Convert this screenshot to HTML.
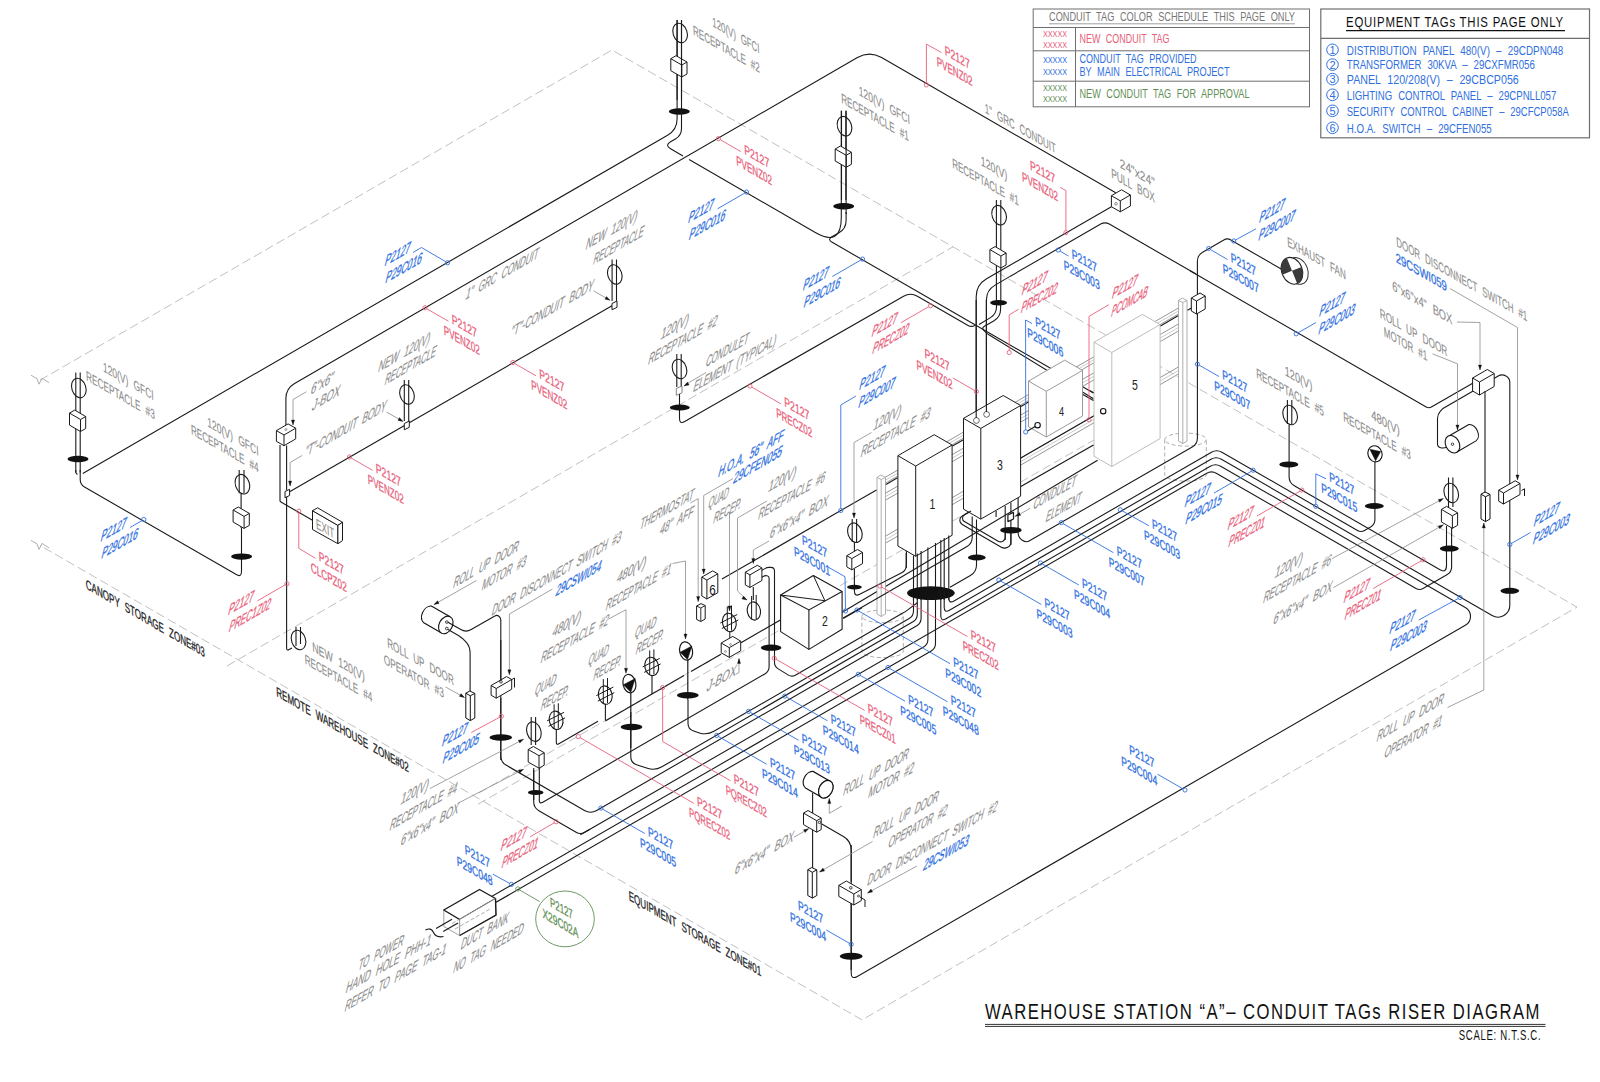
<!DOCTYPE html>
<html><head><meta charset="utf-8"><title>Warehouse Station A - Conduit Tags Riser Diagram</title>
<style>html,body{margin:0;padding:0;background:#fff}svg{display:block}text{font-family:"Liberation Sans",sans-serif}</style>
</head><body>
<svg width="1600" height="1082" viewBox="0 0 1600 1082">
<rect width="1600" height="1082" fill="#fff"/>
<rect x="1033.2" y="9" width="276.3" height="97.8" fill="none" stroke="#6e6e6e" stroke-width="1"/>
<path d="M1033.2 27.5 L1309.5 27.5" stroke="#6e6e6e" stroke-width="1" fill="none"/>
<path d="M1033.2 50.8 L1309.5 50.8" stroke="#6e6e6e" stroke-width="1" fill="none"/>
<path d="M1033.2 81.2 L1309.5 81.2" stroke="#6e6e6e" stroke-width="1" fill="none"/>
<path d="M1075.5 27.5 L1075.5 106.8" stroke="#6e6e6e" stroke-width="1" fill="none"/>
<text x="1049" y="21.3" font-size="12" fill="#777" text-anchor="start" textLength="246" lengthAdjust="spacingAndGlyphs" word-spacing="4">CONDUIT TAG COLOR SCHEDULE THIS PAGE ONLY</text>
<path d="M1049 23.8 L1295 23.8" stroke="#888" stroke-width="0.8" fill="none"/>
<text x="1043" y="37" font-size="9.5" fill="#e8607a" text-anchor="start" textLength="24" lengthAdjust="spacingAndGlyphs">XXXXX</text>
<text x="1043" y="47.5" font-size="9.5" fill="#e8607a" text-anchor="start" textLength="24" lengthAdjust="spacingAndGlyphs">XXXXX</text>
<text x="1043" y="62.5" font-size="9.5" fill="#2f6fe0" text-anchor="start" textLength="24" lengthAdjust="spacingAndGlyphs">XXXXX</text>
<text x="1043" y="74.5" font-size="9.5" fill="#2f6fe0" text-anchor="start" textLength="24" lengthAdjust="spacingAndGlyphs">XXXXX</text>
<text x="1043" y="91.2" font-size="9.5" fill="#5f8f55" text-anchor="start" textLength="24" lengthAdjust="spacingAndGlyphs">XXXXX</text>
<text x="1043" y="102" font-size="9.5" fill="#5f8f55" text-anchor="start" textLength="24" lengthAdjust="spacingAndGlyphs">XXXXX</text>
<text x="1079.5" y="42.5" font-size="12" fill="#e8607a" text-anchor="start" textLength="90" lengthAdjust="spacingAndGlyphs" word-spacing="4">NEW CONDUIT TAG</text>
<text x="1079.5" y="62.5" font-size="12" fill="#2f6fe0" text-anchor="start" textLength="117" lengthAdjust="spacingAndGlyphs" word-spacing="4">CONDUIT TAG PROVIDED</text>
<text x="1079.5" y="76.3" font-size="12" fill="#2f6fe0" text-anchor="start" textLength="150" lengthAdjust="spacingAndGlyphs" word-spacing="4">BY MAIN ELECTRICAL PROJECT</text>
<text x="1079.5" y="98" font-size="12" fill="#5f8f55" text-anchor="start" textLength="170" lengthAdjust="spacingAndGlyphs" word-spacing="4">NEW CONDUIT TAG FOR APPROVAL</text>
<rect x="1320.8" y="9" width="268.7" height="128.8" fill="none" stroke="#6e6e6e" stroke-width="1.2"/>
<path d="M1320.8 38.3 L1589.5 38.3" stroke="#6e6e6e" stroke-width="1.2" fill="none"/>
<text x="1346" y="26.8" font-size="14.5" fill="#111" text-anchor="start" textLength="218" lengthAdjust="spacingAndGlyphs" letter-spacing="1">EQUIPMENT TAGs THIS PAGE ONLY</text>
<path d="M1346 30.6 L1565 30.6" stroke="#111" stroke-width="1.2" fill="none"/>
<circle cx="1332.5" cy="49.8" r="5.8" fill="none" stroke="#2f6fe0" stroke-width="1"/>
<text x="1332.5" y="53.7" font-size="11" fill="#2f6fe0" text-anchor="middle">1</text>
<text x="1346.8" y="54.5" font-size="13" fill="#2f6fe0" text-anchor="start" textLength="216.5" lengthAdjust="spacingAndGlyphs" word-spacing="4.5">DISTRIBUTION PANEL 480(V) – 29CDPN048</text>
<circle cx="1332.5" cy="64.6" r="5.8" fill="none" stroke="#2f6fe0" stroke-width="1"/>
<text x="1332.5" y="68.5" font-size="11" fill="#2f6fe0" text-anchor="middle">2</text>
<text x="1346.8" y="69.3" font-size="13" fill="#2f6fe0" text-anchor="start" textLength="188" lengthAdjust="spacingAndGlyphs" word-spacing="4.5">TRANSFORMER 30KVA – 29CXFMR056</text>
<circle cx="1332.5" cy="79.1" r="5.8" fill="none" stroke="#2f6fe0" stroke-width="1"/>
<text x="1332.5" y="83" font-size="11" fill="#2f6fe0" text-anchor="middle">3</text>
<text x="1346.8" y="83.8" font-size="13" fill="#2f6fe0" text-anchor="start" textLength="172" lengthAdjust="spacingAndGlyphs" word-spacing="4.5">PANEL 120/208(V) – 29CBCP056</text>
<circle cx="1332.5" cy="94.8" r="5.8" fill="none" stroke="#2f6fe0" stroke-width="1"/>
<text x="1332.5" y="98.7" font-size="11" fill="#2f6fe0" text-anchor="middle">4</text>
<text x="1346.8" y="99.5" font-size="13" fill="#2f6fe0" text-anchor="start" textLength="209.5" lengthAdjust="spacingAndGlyphs" word-spacing="4.5">LIGHTING CONTROL PANEL – 29CPNLL057</text>
<circle cx="1332.5" cy="110.8" r="5.8" fill="none" stroke="#2f6fe0" stroke-width="1"/>
<text x="1332.5" y="114.7" font-size="11" fill="#2f6fe0" text-anchor="middle">5</text>
<text x="1346.8" y="115.5" font-size="13" fill="#2f6fe0" text-anchor="start" textLength="222" lengthAdjust="spacingAndGlyphs" word-spacing="4.5">SECURITY CONTROL CABINET – 29CFCP058A</text>
<circle cx="1332.5" cy="127.8" r="5.8" fill="none" stroke="#2f6fe0" stroke-width="1"/>
<text x="1332.5" y="131.7" font-size="11" fill="#2f6fe0" text-anchor="middle">6</text>
<text x="1346.8" y="132.5" font-size="13" fill="#2f6fe0" text-anchor="start" textLength="145" lengthAdjust="spacingAndGlyphs" word-spacing="4.5">H.O.A. SWITCH – 29CFEN055</text>
<text x="985" y="1018.8" font-size="22.5" fill="#111" text-anchor="start" textLength="556" lengthAdjust="spacingAndGlyphs" letter-spacing="2">WAREHOUSE STATION “A”– CONDUIT TAGs RISER DIAGRAM</text>
<path d="M985 1024.4 L1545.5 1024.4" stroke="#333" stroke-width="1" fill="none"/>
<path d="M985 1026.4 L1545.5 1026.4" stroke="#333" stroke-width="1" fill="none"/>
<text x="1458.8" y="1040.3" font-size="14" fill="#111" text-anchor="start" textLength="82.5" lengthAdjust="spacingAndGlyphs" letter-spacing="1">SCALE: N.T.S.C.</text>
<path d="M40 380.2 L612 50 L1577 607.1 L862 1019.9 L40 545.4" stroke="#b0b0b0" stroke-width="0.8" fill="none" stroke-dasharray="9 4"/>
<path d="M31 375.2 L37 378.7 L39 384.2 L42 378.2 L49 382.7" stroke="#999" stroke-width="0.8" fill="none"/>
<path d="M31 540.4 L37 543.9 L39 549.4 L42 543.4 L49 547.9" stroke="#999" stroke-width="0.8" fill="none"/>
<path d="M227 666 L953 246.8" stroke="#b0b0b0" stroke-width="0.8" fill="none" stroke-dasharray="9 4"/>
<path d="M478.9 793 L1100 436.5" stroke="#b0b0b0" stroke-width="0.8" fill="none" stroke-dasharray="9 4"/>
<path d="M477.9 804.3 L781 629.3" stroke="#b0b0b0" stroke-width="0.8" fill="none" stroke-dasharray="9 4"/>
<path d="M75.8 372.5 L75.8 472.5" stroke="#1a1a1a" stroke-width="1.1" fill="none"/>
<path d="M80.2 372.5 L80.2 472.5" stroke="#1a1a1a" stroke-width="1.1" fill="none"/>
<ellipse cx="78.8" cy="388" rx="7" ry="10" fill="none" stroke="#1a1a1a" stroke-width="1.1" transform="rotate(-18 78.8 388)"/>
<polygon points="69.5,425.1 80.5,431.5 85.7,428.5 85.7,416.5 74.7,410.1 69.5,413.1" fill="#fff" stroke="#1a1a1a" stroke-width="1" stroke-linejoin="round"/>
<path d="M69.5 413.1 L80.5 419.5 L85.7 416.5" stroke="#1a1a1a" stroke-width="1" fill="none"/>
<path d="M80.5 419.5 L80.5 431.5" stroke="#1a1a1a" stroke-width="1" fill="none"/>
<ellipse cx="78" cy="459" rx="10.5" ry="3.2" fill="#111"/>
<path d="M75.8 470 L75.8 471.9 Q75.8 473 76.7 473.8 L77.5 474.5" stroke="#1a1a1a" stroke-width="1.1" fill="none"/>
<path d="M80.2 470 L80.2 479.5 Q80.2 484.5 84.5 487 L236.3 574.6 Q241.5 577.6 241.5 571.6 L241.5 528" stroke="#1a1a1a" stroke-width="1.1" fill="none"/>
<path d="M82.8 473.4 L667.6 135.2 Q677.1 129.7 677.1 118.7 L677.1 20" stroke="#1a1a1a" stroke-width="1.1" fill="none"/>
<path d="M677.1 20 L677.1 100" stroke="#1a1a1a" stroke-width="1.1" fill="none"/>
<path d="M681.5 20 L681.5 100" stroke="#1a1a1a" stroke-width="1.1" fill="none"/>
<ellipse cx="680.1" cy="33" rx="7" ry="10" fill="none" stroke="#1a1a1a" stroke-width="1.1" transform="rotate(-18 680.1 33)"/>
<polygon points="670.8,70.7 681.8,77 687,74 687,62 676,55.7 670.8,58.7" fill="#fff" stroke="#1a1a1a" stroke-width="1" stroke-linejoin="round"/>
<path d="M670.8 58.7 L681.8 65 L687 62" stroke="#1a1a1a" stroke-width="1" fill="none"/>
<path d="M681.8 65 L681.8 77" stroke="#1a1a1a" stroke-width="1" fill="none"/>
<ellipse cx="679.3" cy="111.5" rx="10.5" ry="3.2" fill="#111"/>
<path d="M681.5 20 L681.5 118" stroke="#1a1a1a" stroke-width="1.1" fill="none"/>
<path d="M681.5 118 L681.5 128.5 Q681.5 135.5 675.4 139 L670.6 141.8 Q664.5 145.3 670.6 148.8 L683 156" stroke="#1a1a1a" stroke-width="1.1" fill="none"/>
<path d="M689.1 159.6 L815.3 232.5 Q841.3 247.5 841.3 217.5 L841.3 110.7" stroke="#1a1a1a" stroke-width="1.1" fill="none"/>
<path d="M841.5 110.7 L841.5 200" stroke="#1a1a1a" stroke-width="1.1" fill="none"/>
<path d="M845.9 110.7 L845.9 200" stroke="#1a1a1a" stroke-width="1.1" fill="none"/>
<ellipse cx="844.5" cy="126.2" rx="7" ry="10" fill="none" stroke="#1a1a1a" stroke-width="1.1" transform="rotate(-18 844.5 126.2)"/>
<polygon points="835.2,161 846.2,167.3 851.4,164.3 851.4,152.3 840.4,146 835.2,149" fill="#fff" stroke="#1a1a1a" stroke-width="1" stroke-linejoin="round"/>
<path d="M835.2 149 L846.2 155.3 L851.4 152.3" stroke="#1a1a1a" stroke-width="1" fill="none"/>
<path d="M846.2 155.3 L846.2 167.3" stroke="#1a1a1a" stroke-width="1" fill="none"/>
<ellipse cx="843.7" cy="206.3" rx="10.5" ry="3.2" fill="#111"/>
<path d="M846.1 110.7 L846.1 214" stroke="#1a1a1a" stroke-width="1.1" fill="none"/>
<path d="M846.1 212 L846.1 220.5 Q846.1 229 838.6 233 L832.3 236.5 Q827 239.3 832.2 242.3 L975 324.7" stroke="#1a1a1a" stroke-width="1.1" fill="none"/>
<path d="M239.2 470 L239.2 493.2" stroke="#1a1a1a" stroke-width="1.1" fill="none"/>
<path d="M244 470 L244 493.2" stroke="#1a1a1a" stroke-width="1.1" fill="none"/>
<path d="M241.1 493.2 L241.1 528" stroke="#1a1a1a" stroke-width="1.1" fill="none"/>
<ellipse cx="242.4" cy="484.2" rx="7" ry="10" fill="none" stroke="#1a1a1a" stroke-width="1.1" transform="rotate(-18 242.4 484.2)"/>
<polygon points="233.1,522 244.1,528.4 249.3,525.4 249.3,513.4 238.3,507 233.1,510" fill="#fff" stroke="#1a1a1a" stroke-width="1" stroke-linejoin="round"/>
<path d="M233.1 510 L244.1 516.4 L249.3 513.4" stroke="#1a1a1a" stroke-width="1" fill="none"/>
<path d="M244.1 516.4 L244.1 528.4" stroke="#1a1a1a" stroke-width="1" fill="none"/>
<ellipse cx="241.6" cy="556.6" rx="10.5" ry="3.2" fill="#111"/>
<path d="M285.9 429 L285.9 398.4 Q285.9 388.4 294.6 383.4 L857.4 57.6 Q869.5 50.6 881.6 57.6 L1115.7 192.8" stroke="#1a1a1a" stroke-width="1.1" fill="none"/>
<polygon points="276.4,441.3 284,445.7 295.7,438.9 295.7,428.2 288.1,423.9 276.4,430.6" fill="#fff" stroke="#1a1a1a" stroke-width="1" stroke-linejoin="round"/>
<path d="M276.4 430.6 L284 435 L295.7 428.2" stroke="#1a1a1a" stroke-width="1" fill="none"/>
<path d="M284 435 L284 445.7" stroke="#1a1a1a" stroke-width="1" fill="none"/>
<circle cx="285.9" cy="429.5" r="1" fill="none" stroke="#555" stroke-width="0.6"/>
<path d="M280 445 L280 500.5 Q280 501.5 280.9 502 L312.5 520.3" stroke="#1a1a1a" stroke-width="1.1" fill="none"/>
<path d="M286.6 445.5 L286.6 490" stroke="#1a1a1a" stroke-width="1.1" fill="none"/>
<path d="M286.6 497 L286.6 648 Q286.6 651 289.2 649.5 L292 648" stroke="#1a1a1a" stroke-width="1.1" fill="none"/>
<polygon points="285,491.5 289.6,489.3 289.6,495.5 285,497.7" fill="#fff" stroke="#1a1a1a" stroke-width="1" stroke-linejoin="round"/>
<path d="M289.6 491.8 L404.5 425.5" stroke="#1a1a1a" stroke-width="1.1" fill="none"/>
<path d="M404.3 380 L404.3 421" stroke="#1a1a1a" stroke-width="1.1" fill="none"/>
<path d="M408.7 380 L408.7 421" stroke="#1a1a1a" stroke-width="1.1" fill="none"/>
<ellipse cx="407" cy="394.5" rx="7" ry="10" fill="none" stroke="#1a1a1a" stroke-width="1.1" transform="rotate(-18 407 394.5)"/>
<polygon points="404.3,423.5 409.3,421 409.3,427.3 404.3,429.8" fill="#fff" stroke="#1a1a1a" stroke-width="1" stroke-linejoin="round"/>
<path d="M409.3 422.7 L612 305.7" stroke="#1a1a1a" stroke-width="1.1" fill="none"/>
<path d="M612.1 259.5 L612.1 301" stroke="#1a1a1a" stroke-width="1.1" fill="none"/>
<path d="M616.5 259.5 L616.5 301" stroke="#1a1a1a" stroke-width="1.1" fill="none"/>
<ellipse cx="614.8" cy="274.5" rx="7" ry="10" fill="none" stroke="#1a1a1a" stroke-width="1.1" transform="rotate(-18 614.8 274.5)"/>
<polygon points="612,303.5 617,301 617,307.3 612,309.8" fill="#fff" stroke="#1a1a1a" stroke-width="1" stroke-linejoin="round"/>
<ellipse cx="298.5" cy="640" rx="7" ry="10" fill="none" stroke="#1a1a1a" stroke-width="1.1" transform="rotate(-18 298.5 640)"/>
<path d="M296 627 L296 646" stroke="#1a1a1a" stroke-width="1.1" fill="none"/>
<path d="M300.5 627 L300.5 644" stroke="#1a1a1a" stroke-width="1.1" fill="none"/>
<polygon points="312.5,510.7 337.9,525.4 337.9,543.7 312.5,529.5" fill="#fff" stroke="#1a1a1a" stroke-width="1" stroke-linejoin="round"/>
<polygon points="312.5,510.7 317.6,507.8 342.5,522.3 337.9,525.4" fill="#fff" stroke="#1a1a1a" stroke-width="1" stroke-linejoin="round"/>
<polygon points="337.9,525.4 342.5,522.3 342.5,540.6 337.9,543.7" fill="#fff" stroke="#1a1a1a" stroke-width="1" stroke-linejoin="round"/>
<text transform="matrix(0.667 0.385 0.054 1.039 316.3 528.2)" font-size="13.5" fill="#8c8c8c" stroke="#8c8c8c" stroke-width="0.12" textLength="27.3" lengthAdjust="spacingAndGlyphs">EXIT</text>
<polygon points="1111.4,206.7 1120.3,211.8 1130.4,206 1130.4,195 1121.5,189.8 1111.4,195.7" fill="#fff" stroke="#1a1a1a" stroke-width="1" stroke-linejoin="round"/>
<path d="M1111.4 195.7 L1120.3 200.8 L1130.4 195" stroke="#1a1a1a" stroke-width="1" fill="none"/>
<path d="M1120.3 200.8 L1120.3 211.8" stroke="#1a1a1a" stroke-width="1" fill="none"/>
<circle cx="1116" cy="203.8" r="1.3" fill="none" stroke="#444" stroke-width="0.6"/>
<path d="M1111.4 206.7 L1000 271" stroke="#1a1a1a" stroke-width="1.1" fill="none"/>
<path d="M1010 276.4 L1100.7 224.1 Q1105 221.6 1109.3 224.1 L1196 274.1" stroke="#1a1a1a" stroke-width="1.1" fill="none"/>
<path d="M884 478 L1180 307.1" stroke="#8a8a8a" stroke-width="0.9" fill="none"/>
<path d="M884 484 L1180 313.1" stroke="#8a8a8a" stroke-width="0.9" fill="none"/>
<path d="M884 481 L1180 310.1" stroke="#b5b5b5" stroke-width="0.7" fill="none"/>
<path d="M884 494 L1180 323.1" stroke="#8a8a8a" stroke-width="0.9" fill="none"/>
<path d="M884 501 L1180 330.1" stroke="#8a8a8a" stroke-width="0.9" fill="none"/>
<path d="M884 497.5 L1180 326.6" stroke="#b5b5b5" stroke-width="0.7" fill="none"/>
<path d="M884 537 L1180 366.1" stroke="#8a8a8a" stroke-width="0.9" fill="none"/>
<path d="M884 544 L1180 373.1" stroke="#8a8a8a" stroke-width="0.9" fill="none"/>
<path d="M884 540.5 L1180 369.6" stroke="#b5b5b5" stroke-width="0.7" fill="none"/>
<ellipse cx="1185.5" cy="439.6" rx="20.8" ry="6.5" fill="none" stroke="#999" stroke-width="0.8" stroke-dasharray="4 2.5"/>
<path d="M1164.7 439.6 V474.6 A20.8 6.5 0 0 0 1206.3 474.6 V439.6" fill="none" stroke="#999" stroke-width="0.8" stroke-dasharray="4 2.5"/>
<ellipse cx="882.6" cy="616.3" rx="20.7" ry="6.3" fill="none" stroke="#999" stroke-width="0.8" stroke-dasharray="4 2.5"/>
<path d="M861.9 616.3 V651.3 A20.7 6.3 0 0 0 903.3 651.3 V616.3" fill="none" stroke="#999" stroke-width="0.8" stroke-dasharray="4 2.5"/>
<path d="M975 324.7 L1093.5 393.1" stroke="#1a1a1a" stroke-width="1.1" fill="none"/>
<path d="M1000.6 300 L1000.6 309 Q1000.6 317 993.7 321 L984.4 326.3 Q981.5 328 983.8 330.5 L983.8 330.5 Q986 333 988.9 334.8 L1093.5 398.7" stroke="#1a1a1a" stroke-width="1.1" fill="none"/>
<path d="M996.5 300 L996.5 307 Q996.5 314 990.5 317.6 L979 324.5" stroke="#1a1a1a" stroke-width="1.1" fill="none"/>
<path d="M996.4 200 L996.4 300" stroke="#1a1a1a" stroke-width="1.1" fill="none"/>
<path d="M1000.8 200 L1000.8 300" stroke="#1a1a1a" stroke-width="1.1" fill="none"/>
<ellipse cx="999.1" cy="215.2" rx="7" ry="10" fill="none" stroke="#1a1a1a" stroke-width="1.1" transform="rotate(-18 999.1 215.2)"/>
<polygon points="989.9,261.6 1000.9,268 1006.1,265 1006.1,253 995.1,246.6 989.9,249.6" fill="#fff" stroke="#1a1a1a" stroke-width="1" stroke-linejoin="round"/>
<path d="M989.9 249.6 L1000.9 256 L1006.1 253" stroke="#1a1a1a" stroke-width="1" fill="none"/>
<path d="M1000.9 256 L1000.9 268" stroke="#1a1a1a" stroke-width="1" fill="none"/>
<ellipse cx="998.6" cy="302.7" rx="8.5" ry="2.8" fill="#111"/>
<path d="M679.5 394 L679.5 418.5 Q679.5 424.5 684.7 421.5 L903.6 296.2 Q910.5 292.2 917.4 296.2 L968.5 325.7 Q970.5 326.8 972.8 326.2 L975 325.5" stroke="#1a1a1a" stroke-width="1.1" fill="none"/>
<path d="M1000 271 L986.6 278.8 Q976.2 284.8 976.2 296.8 L976.2 420" stroke="#1a1a1a" stroke-width="1.1" fill="none"/>
<path d="M1010 276.4 L995.1 285.1 Q986.4 290.1 986.4 300.1 L986.4 414" stroke="#1a1a1a" stroke-width="1.1" fill="none"/>
<polygon points="1178.5,300.5 1182.3,298 1187,300.5 1187,441 1182.8,443.5 1178.5,441" fill="#fff" stroke="#9a9a9a" stroke-width="0.8" stroke-linejoin="round"/>
<path d="M1182.8 302.5 L1182.8 443.5" stroke="#9a9a9a" stroke-width="0.8" fill="none"/>
<path d="M1178.5 300.5 L1182.8 302.5 L1187 300.5" stroke="#9a9a9a" stroke-width="0.8" fill="none"/>
<polygon points="1028.5,426.8 1046.3,437 1082.5,416.1 1082.5,370.4 1064.7,360.2 1028.5,381.1" fill="#fff" stroke="#8f8f8f" stroke-width="0.9" stroke-linejoin="round"/>
<path d="M1028.5 381.1 L1046.3 391.3 L1082.5 370.4" stroke="#8f8f8f" stroke-width="0.9" fill="none"/>
<path d="M1046.3 391.3 L1046.3 437" stroke="#8f8f8f" stroke-width="0.9" fill="none"/>
<text transform="matrix(0.700 0.000 -0.000 1.000 1059 416)" font-size="13" fill="#222" text-anchor="start">4</text>
<path d="M1027.5 431 L1036 426" stroke="#1a1a1a" stroke-width="1.1" fill="none"/>
<circle cx="1037.6" cy="425.2" r="2.7" fill="#fff" stroke="#111" stroke-width="1.1"/>
<path d="M1020.8 458.1 L1101 411.8" stroke="#1a1a1a" stroke-width="1.1" fill="none"/>
<polygon points="1094,456.2 1111.8,466.5 1160.1,438.6 1160.1,324.6 1142.4,314.4 1094,342.2" fill="#fff" stroke="#b5b5b5" stroke-width="0.9" stroke-linejoin="round"/>
<path d="M1094 342.2 L1111.8 352.5 L1160.1 324.6" stroke="#b5b5b5" stroke-width="0.9" fill="none"/>
<path d="M1111.8 352.5 L1111.8 466.5" stroke="#b5b5b5" stroke-width="0.9" fill="none"/>
<circle cx="1103.2" cy="411.2" r="2.7" fill="#fff" stroke="#111" stroke-width="1.1"/>
<text transform="matrix(0.750 0.000 -0.000 1.000 1132 390)" font-size="14" fill="#222" text-anchor="start">5</text>
<path d="M1082.9 394.4 L1093.5 400.5" stroke="#1a1a1a" stroke-width="1.1" fill="none"/>
<path d="M1089.5 390.4 L1093.5 392.8" stroke="#1a1a1a" stroke-width="1.1" fill="none"/>
<path d="M1020.8 486.6 L1093.5 444.9" stroke="#1a1a1a" stroke-width="1.2" fill="none"/>
<path d="M842.2 612.3 L1097.6 460.3" stroke="#1a1a1a" stroke-width="1.2" fill="none"/>
<polygon points="963.5,509.1 980.8,519.1 1020.6,496.2 1020.6,405.5 1003.2,395.5 963.5,418.4" fill="#fff" stroke="#1a1a1a" stroke-width="1" stroke-linejoin="round"/>
<path d="M963.5 418.4 L980.8 428.4 L1020.6 405.5" stroke="#1a1a1a" stroke-width="1" fill="none"/>
<path d="M980.8 428.4 L980.8 519.1" stroke="#1a1a1a" stroke-width="1" fill="none"/>
<circle cx="976.4" cy="420.5" r="2.9" fill="#fff" stroke="#555" stroke-width="0.9"/><circle cx="986.6" cy="414.4" r="2.9" fill="#fff" stroke="#555" stroke-width="0.9"/>
<path d="M976.2 300 L976.2 418" stroke="#1a1a1a" stroke-width="1.1" fill="none"/>
<path d="M986.4 300 L986.4 412" stroke="#1a1a1a" stroke-width="1.1" fill="none"/>
<text transform="matrix(0.750 0.000 -0.000 1.000 997 470)" font-size="14" fill="#222" text-anchor="start">3</text>
<polygon points="897.9,546 915.7,556.3 952.1,535.3 952.1,445 934.2,434.7 897.9,455.7" fill="#fff" stroke="#1a1a1a" stroke-width="1" stroke-linejoin="round"/>
<path d="M897.9 455.7 L915.7 466 L952.1 445" stroke="#1a1a1a" stroke-width="1" fill="none"/>
<path d="M915.7 466 L915.7 556.3" stroke="#1a1a1a" stroke-width="1" fill="none"/>
<text transform="matrix(0.750 0.000 -0.000 1.000 929.5 509)" font-size="14" fill="#222" text-anchor="start">1</text>
<polygon points="877,477.5 880.8,475 885.5,477.5 885.5,614 881.2,616.5 877,614" fill="#fff" stroke="#9a9a9a" stroke-width="0.8" stroke-linejoin="round"/>
<path d="M881.2 479.5 L881.2 616.5" stroke="#9a9a9a" stroke-width="0.8" fill="none"/>
<path d="M877 477.5 L881.2 479.5 L885.5 477.5" stroke="#9a9a9a" stroke-width="0.8" fill="none"/>
<path d="M722 579.1 L876.5 489.9" stroke="#1a1a1a" stroke-width="1.1" fill="none"/>
<path d="M886 484.4 L897.5 477.7" stroke="#1a1a1a" stroke-width="1.1" fill="none"/>
<path d="M952.5 446 L963 439.9" stroke="#1a1a1a" stroke-width="1.1" fill="none"/>
<path d="M1021 406.4 L1028.5 402.1" stroke="#1a1a1a" stroke-width="1.1" fill="none"/>
<path d="M1160.5 325.9 L1178 315.8" stroke="#1a1a1a" stroke-width="1.1" fill="none"/>
<path d="M1187.5 310.3 L1192 307.7" stroke="#1a1a1a" stroke-width="1.1" fill="none"/>
<path d="M1197.4 300 L1197.4 261.2 Q1197.4 255.2 1202.6 252.2 L1223.8 239.9 Q1227.3 237.9 1230.8 239.9 L1283 270.1" stroke="#1a1a1a" stroke-width="1.1" fill="none"/>
<polygon points="1191.3,311 1196.5,314 1205.2,309 1205.2,296 1200,293 1191.3,298" fill="#fff" stroke="#1a1a1a" stroke-width="1" stroke-linejoin="round"/>
<path d="M1191.3 298 L1196.5 301 L1205.2 296" stroke="#1a1a1a" stroke-width="1" fill="none"/>
<path d="M1196.5 301 L1196.5 314" stroke="#1a1a1a" stroke-width="1" fill="none"/>
<path d="M1197.4 314 L1197.4 437.9 Q1197.4 443.9 1192.2 446.9 L1029.5 540.8 Q1026 542.8 1022.7 540.5 L1022 540.1 Q1018.1 537.3 1018.1 532.5 L1018.1 498" stroke="#1a1a1a" stroke-width="1.1" fill="none"/>
<path d="M996.1 511 L996.1 517" stroke="#1a1a1a" stroke-width="1.1" fill="none"/>
<path d="M1005.2 506 L1005.2 540" stroke="#1a1a1a" stroke-width="1.1" fill="none"/>
<path d="M1010.9 502.5 L1010.9 545" stroke="#1a1a1a" stroke-width="1.1" fill="none"/>
<path d="M968.5 512.5 L964.4 514.9 Q962.5 516 962.5 518.2 L962.5 518.2 Q962.5 520.5 964.4 521.6 L998.2 541.2 Q1000.5 542.5 1002.9 541.2 L1002.9 541.2 Q1005.2 540 1005.2 537.3 L1005.2 530" stroke="#1a1a1a" stroke-width="1.1" fill="none"/>
<path d="M971 511 L962.2 516.1 Q959.8 517.5 959.8 520.2 L959.8 520.2 Q959.8 523 962.2 524.4 L1001.3 547.2 Q1004.5 549 1007.7 547.2 L1007.7 547.2 Q1010.9 545.5 1010.9 541.9 L1010.9 530" stroke="#1a1a1a" stroke-width="1.1" fill="none"/>
<polygon points="1007.9,515 1013.5,512.4 1013.5,519 1007.9,521.6" fill="#fff" stroke="#1a1a1a" stroke-width="1.2" stroke-linejoin="round"/>
<ellipse cx="1010.9" cy="530.2" rx="10.8" ry="3.3" fill="#111"/>
<path d="M976.5 519.5 L976.5 565 Q976.5 572 970.4 575.5 L950 587.3" stroke="#1a1a1a" stroke-width="1.1" fill="none"/>
<ellipse cx="976.8" cy="557.5" rx="8.9" ry="3" fill="#111"/>
<path d="M972.2 516.5 L972.2 537.5 Q972.2 543.5 967 546.5 L843.2 618" stroke="#1a1a1a" stroke-width="1.1" fill="none"/>
<polygon points="1014.7,516.5 1019.5,512.6 1020.8,515.3" fill="#111" stroke="#111" stroke-width="0.3" stroke-linejoin="round"/>
<path d="M1021 513.5 L1030.2 508.2" stroke="#8a8a8a" stroke-width="0.8" fill="none"/>
<path d="M913.5 555.5 L913.5 600" stroke="#1a1a1a" stroke-width="1.1" fill="none"/>
<path d="M917.3 553.5 L917.3 600" stroke="#1a1a1a" stroke-width="1.1" fill="none"/>
<path d="M921.1 551 L921.1 600" stroke="#1a1a1a" stroke-width="1.1" fill="none"/>
<path d="M927.9 547.5 L927.9 600" stroke="#1a1a1a" stroke-width="1.1" fill="none"/>
<path d="M935.5 543 L935.5 600" stroke="#1a1a1a" stroke-width="1.1" fill="none"/>
<path d="M940.8 540 L940.8 600" stroke="#1a1a1a" stroke-width="1.1" fill="none"/>
<path d="M944.2 538 L944.2 600" stroke="#1a1a1a" stroke-width="1.1" fill="none"/>
<path d="M948.8 535.5 L948.8 600" stroke="#1a1a1a" stroke-width="1.1" fill="none"/>
<path d="M906.4 551 L906.4 568" stroke="#1a1a1a" stroke-width="1.1" fill="none"/>
<ellipse cx="930.9" cy="593.1" rx="23.9" ry="6.8" fill="#111"/>
<path d="M913.5 598 L913.5 611 Q913.5 616 909.2 618.5 L713.9 731.3 Q707 735.3 699.4 732.9 L693.7 731.1 Q688 729.3 688 723.3 L688 700" stroke="#1a1a1a" stroke-width="1.1" fill="none"/>
<path d="M917.3 598 L917.3 614.3 Q917.3 619.3 913 621.8 L661.9 766.8 Q655 770.8 647.4 768.3 L636.5 764.7 Q630.8 762.8 630.8 756.8 L630.8 712" stroke="#1a1a1a" stroke-width="1.1" fill="none"/>
<path d="M921.1 598 L921.1 618.2 Q921.1 623.2 916.8 625.7 L596.7 810.5 Q590.6 814 584.5 810.5 L506 765.1 Q500.8 762.1 500.8 756.1 L500.8 640" stroke="#1a1a1a" stroke-width="1.1" fill="none"/>
<path d="M927.9 598 L927.9 639.6 Q927.9 644.6 923.6 647.1 L479 903.8" stroke="#1a1a1a" stroke-width="1.1" fill="none"/>
<path d="M935.5 598 L935.5 643.5 Q935.5 648.5 931.2 651 L486 908.1" stroke="#1a1a1a" stroke-width="1.1" fill="none"/>
<path d="M590 829.2 L584.7 832.3 Q580.4 834.8 576.1 832.3 L538.9 810.8 Q533.7 807.8 533.7 801.8 L533.7 770" stroke="#1a1a1a" stroke-width="1.1" fill="none"/>
<path d="M774.5 600 L774.5 662.5 Q774.5 666.5 777.9 668.6 L788.4 675.1 Q791.8 677.2 795.3 675.2 L902.4 613.3 Q905 611.8 907.4 610.1 L917.3 602.8" stroke="#1a1a1a" stroke-width="1.1" fill="none"/>
<path d="M769.1 600 L769.1 666.5 Q769.1 671.5 764.8 674 L542.8 802.2 Q539.3 804.2 539.3 800.2 L539.3 768" stroke="#1a1a1a" stroke-width="1.1" fill="none"/>
<path d="M948.8 590 L948.8 597.9 Q948.8 603.9 954 600.9 L1211.5 452.2 Q1216.7 449.2 1221.9 452.2 L1357.5 530.5 Q1361 532.5 1364.5 530.5 L1370.6 527 Q1374.9 524.5 1374.9 519.5 L1374.9 461" stroke="#1a1a1a" stroke-width="1.1" fill="none"/>
<path d="M944.2 590 L944.2 607.2 Q944.2 613.2 949.4 610.2 L1211 459.2 Q1216.2 456.2 1221.4 459.2 L1492.1 615.5 Q1498 618.9 1503.9 615.5 L1503.9 615.5 Q1509.8 612.1 1509.8 605.3 L1509.8 382.4 Q1509.8 378 1505.9 375.9 L1505.9 375.9 Q1502 373.8 1498.2 376 L1494 378.4" stroke="#1a1a1a" stroke-width="1.1" fill="none"/>
<path d="M940.8 590 L940.8 615.8 Q940.8 621.8 946 618.8 L1210.3 466.2 Q1215.5 463.2 1220.7 466.2 L1465.3 607.4 Q1470.5 610.4 1470.5 616.4 L1470.5 616.4 Q1470.5 622.3 1465.3 625.3 L857.3 976.4 Q851.2 979.9 851.2 972.9 L851.2 845" stroke="#1a1a1a" stroke-width="1.1" fill="none"/>
<path d="M580.4 834.8 L1206.3 473.4 Q1211.5 470.4 1216.7 473.4 L1416 588.5 Q1419.5 590.5 1423 588.5 L1447.3 574.5 Q1451.6 572 1451.6 567 L1451.6 528" stroke="#1a1a1a" stroke-width="1.1" fill="none"/>
<path d="M1289.1 425 L1289.1 476.8 Q1289.1 482.8 1294.3 485.8 L1439.6 569.6 Q1446.5 573.6 1446.5 565.6 L1446.5 526" stroke="#1a1a1a" stroke-width="1.1" fill="none"/>
<path d="M1287.4 400 L1287.4 424" stroke="#1a1a1a" stroke-width="1.1" fill="none"/>
<path d="M1291.8 400 L1291.8 424" stroke="#1a1a1a" stroke-width="1.1" fill="none"/>
<ellipse cx="1290.1" cy="415" rx="7" ry="10" fill="none" stroke="#1a1a1a" stroke-width="1.1" transform="rotate(-18 1290.1 415)"/>
<ellipse cx="1288.8" cy="464.4" rx="9.5" ry="3" fill="#111"/>
<ellipse cx="1375" cy="453.8" rx="7" ry="8.2" fill="#fff" stroke="#111" stroke-width="1.1" transform="rotate(-18 1375 453.8)"/>
<polygon points="1369.8,449.2 1380.6,451.6 1375.6,460.8" fill="#111" stroke="#111" stroke-width="0.5" stroke-linejoin="round"/>
<ellipse cx="1374.3" cy="506" rx="9.5" ry="3" fill="#111"/>
<path d="M1448.5 477.5 L1448.5 507" stroke="#1a1a1a" stroke-width="1.1" fill="none"/>
<path d="M1452.9 477.5 L1452.9 507" stroke="#1a1a1a" stroke-width="1.1" fill="none"/>
<ellipse cx="1451.2" cy="493" rx="7" ry="10" fill="none" stroke="#1a1a1a" stroke-width="1.1" transform="rotate(-18 1451.2 493)"/>
<polygon points="1441.4,521.9 1452.4,528.3 1457.6,525.3 1457.6,512.8 1446.6,506.4 1441.4,509.4" fill="#fff" stroke="#1a1a1a" stroke-width="1" stroke-linejoin="round"/>
<path d="M1441.4 509.4 L1452.4 515.8 L1457.6 512.8" stroke="#1a1a1a" stroke-width="1" fill="none"/>
<path d="M1452.4 515.8 L1452.4 528.3" stroke="#1a1a1a" stroke-width="1" fill="none"/>
<ellipse cx="1449.3" cy="548.6" rx="9.5" ry="3" fill="#111"/>
<path d="M1190 270.7 L1426.2 407 Q1428.8 408.5 1431.4 407 L1474 382.4" stroke="#1a1a1a" stroke-width="1.1" fill="none"/>
<path d="M1474 390.5 L1443 408.4 Q1443 408.4 1443 408.4 L1440.2 411.4 Q1437.5 414.4 1437.5 418.5 L1437.5 443.7 Q1437.5 447 1440.8 447.8 L1440.8 447.8 Q1444 448.6 1446.9 446.9 L1450 445.2" stroke="#1a1a1a" stroke-width="1.1" fill="none"/>
<path d="M1448.9 436 L1468.8 424.5 A6.8 9.2 -28 0 1 1476 440.9 L1456.1 452.4" fill="#fff" stroke="#111" stroke-width="1.1"/>
<ellipse cx="1452.5" cy="444.2" rx="6.8" ry="9.2" fill="#fff" stroke="#111" stroke-width="1.1" transform="rotate(-28 1452.5 444.2)"/>
<circle cx="1452.5" cy="444.2" r="1.2" fill="none" stroke="#111" stroke-width="0.8"/>
<polygon points="1472.6,391 1479.5,395 1494.2,386.5 1494.2,373.5 1487.3,369.5 1472.6,378" fill="#fff" stroke="#1a1a1a" stroke-width="1" stroke-linejoin="round"/>
<path d="M1472.6 378 L1479.5 382 L1494.2 373.5" stroke="#1a1a1a" stroke-width="1" fill="none"/>
<path d="M1479.5 382 L1479.5 395" stroke="#1a1a1a" stroke-width="1" fill="none"/>
<path d="M1485 391 L1485 493" stroke="#1a1a1a" stroke-width="1.1" fill="none"/>
<polygon points="1481,494.2 1485,492 1490,494.4 1490,519 1485.5,521.6 1481,519" fill="#fff" stroke="#111" stroke-width="1" stroke-linejoin="round"/>
<path d="M1481 494.2 L1485.5 496.8 L1490 494.4" stroke="#111" stroke-width="1" fill="none"/>
<path d="M1485.5 496.8 L1485.5 521.6" stroke="#111" stroke-width="1" fill="none"/>
<polygon points="1498.7,501.2 1503.5,504 1520,494.5 1520,483.5 1515.2,480.8 1498.7,490.2" fill="#fff" stroke="#1a1a1a" stroke-width="1" stroke-linejoin="round"/>
<path d="M1498.7 490.2 L1503.5 493 L1520 483.5" stroke="#1a1a1a" stroke-width="1" fill="none"/>
<path d="M1503.5 493 L1503.5 504" stroke="#1a1a1a" stroke-width="1" fill="none"/>
<path d="M1521.5 490.5 L1524.5 488.8 L1524.5 496" stroke="#111" stroke-width="1" fill="none"/>
<path d="M1457 322 L1480 322.5 L1480 370" stroke="#8a8a8a" stroke-width="0.8" fill="none"/>
<polygon points="1480,370 1478.4,365 1481.6,365" fill="#111" stroke="#111" stroke-width="0.3" stroke-linejoin="round"/>
<path d="M1450 288.5 L1517.5 327.5 L1517.5 480" stroke="#8a8a8a" stroke-width="0.8" fill="none"/>
<polygon points="1517.5,480 1515.9,475 1519.1,475" fill="#111" stroke="#111" stroke-width="0.3" stroke-linejoin="round"/>
<path d="M1432.5 353.8 L1457.5 363.8 L1457.5 430" stroke="#8a8a8a" stroke-width="0.8" fill="none"/>
<polygon points="1457.5,430 1455.9,425 1459.1,425" fill="#111" stroke="#111" stroke-width="0.3" stroke-linejoin="round"/>
<path d="M1447.5 707.5 L1483.8 690 L1483.8 523" stroke="#8a8a8a" stroke-width="0.8" fill="none"/>
<polygon points="1483.8,523 1485.4,528 1482.2,528" fill="#111" stroke="#111" stroke-width="0.3" stroke-linejoin="round"/>
<path d="M1332 558.6 L1443.4 498.5" stroke="#8a8a8a" stroke-width="0.8" fill="none"/>
<polygon points="1443.4,498.5 1439.7,502.3 1438.2,499.4" fill="#111" stroke="#111" stroke-width="0.3" stroke-linejoin="round"/>
<path d="M1333.3 587.7 L1443.4 524.8" stroke="#8a8a8a" stroke-width="0.8" fill="none"/>
<polygon points="1443.4,524.8 1439.8,528.7 1438.3,525.9" fill="#111" stroke="#111" stroke-width="0.3" stroke-linejoin="round"/>
<ellipse cx="1509.8" cy="590.8" rx="9.4" ry="3" fill="#111"/>
<path d="M605.3 721.1 L684 675.6" stroke="#1a1a1a" stroke-width="1.1" fill="none"/>
<path d="M691 671.6 L721 654.3" stroke="#1a1a1a" stroke-width="1.1" fill="none"/>
<path d="M741 642.7 L780.4 620" stroke="#1a1a1a" stroke-width="1.1" fill="none"/>
<path d="M780.4 620 L780.5 620" stroke="#2f6fe0" stroke-width="1" fill="none"/>
<path d="M852.2 519 L852.2 542" stroke="#1a1a1a" stroke-width="1.1" fill="none"/>
<path d="M856.6 519 L856.6 542" stroke="#1a1a1a" stroke-width="1.1" fill="none"/>
<ellipse cx="854.9" cy="532.7" rx="7" ry="10" fill="none" stroke="#1a1a1a" stroke-width="1.1" transform="rotate(-18 854.9 532.7)"/>
<path d="M854.4 542 L854.4 558" stroke="#1a1a1a" stroke-width="1.1" fill="none"/>
<polygon points="846.8,566.9 851.8,569.8 862.5,563.6 862.5,552.4 857.5,549.5 846.8,555.7" fill="#fff" stroke="#1a1a1a" stroke-width="1" stroke-linejoin="round"/>
<path d="M846.8 555.7 L851.8 558.6 L862.5 552.4" stroke="#1a1a1a" stroke-width="1" fill="none"/>
<path d="M851.8 558.6 L851.8 569.8" stroke="#1a1a1a" stroke-width="1" fill="none"/>
<path d="M854.4 569 L854.4 591 Q854.4 597 859.7 594.3 L901.7 572.8 Q906.2 570.5 906.2 565.5 L906.2 553" stroke="#1a1a1a" stroke-width="1.1" fill="none"/>
<ellipse cx="854.4" cy="587.1" rx="7.4" ry="2.3" fill="#111"/>
<polygon points="780.6,595 813.4,575.5 842.1,591.5 842.1,629.3 808.9,649.4 780.6,631.6" fill="#fff" stroke="#1a1a1a" stroke-width="1.1" stroke-linejoin="round"/>
<path d="M780.6 595 L808.9 609.9 L842.1 591.5" stroke="#1a1a1a" stroke-width="1.1" fill="none"/>
<path d="M808.9 609.9 L808.9 649.4" stroke="#1a1a1a" stroke-width="1.1" fill="none"/>
<path d="M780.6 595 L824.9 600.7 L813.4 575.5" stroke="#1a1a1a" stroke-width="1" fill="none"/>
<text transform="matrix(0.750 0.000 -0.000 1.000 822 626)" font-size="14" fill="#222" text-anchor="start">2</text>
<path d="M843.2 618.6 L862 607.7" stroke="#1a1a1a" stroke-width="1.1" fill="none"/>
<polygon points="701.8,596 706.9,599 717.8,592.7 717.8,573.8 712.7,570.9 701.8,577.1" fill="#fff" stroke="#1a1a1a" stroke-width="1" stroke-linejoin="round"/>
<path d="M701.8 577.1 L706.9 580.1 L717.8 573.8" stroke="#1a1a1a" stroke-width="1" fill="none"/>
<path d="M706.9 580.1 L706.9 599" stroke="#1a1a1a" stroke-width="1" fill="none"/>
<text transform="matrix(0.800 0.000 -0.000 1.000 709.2 595)" font-size="14.5" fill="#111" text-anchor="start">6</text>
<polygon points="696.6,606 701,603.6 705.2,605.6 705.2,619 700.8,621.5 696.6,619.5" fill="#fff" stroke="#1a1a1a" stroke-width="1" stroke-linejoin="round"/>
<path d="M696.6 606 L700.8 608 L705.2 605.6" stroke="#1a1a1a" stroke-width="0.9" fill="none"/>
<path d="M700.8 608 L700.8 621.5" stroke="#1a1a1a" stroke-width="0.9" fill="none"/>
<path d="M753.3 587 L753.3 600" stroke="#1a1a1a" stroke-width="1.1" fill="none"/>
<polygon points="745.3,584.9 749.9,587.5 761.9,580.5 761.9,567.9 757.3,565.3 745.3,572.2" fill="#fff" stroke="#1a1a1a" stroke-width="1" stroke-linejoin="round"/>
<path d="M745.3 572.2 L749.9 574.9 L761.9 567.9" stroke="#1a1a1a" stroke-width="1" fill="none"/>
<path d="M749.9 574.9 L749.9 587.5" stroke="#1a1a1a" stroke-width="1" fill="none"/>
<path d="M761.9 570.4 L765.3 568.4 Q767 567.4 769 567.4 L770.8 567.4 Q774.5 567.4 774.5 571.1 L774.5 600" stroke="#1a1a1a" stroke-width="1.1" fill="none"/>
<path d="M761.9 577.2 L763.5 576.3 Q765 575.4 766.8 575.7 L767 575.7 Q769.1 576 769.1 578.1 L769.1 600" stroke="#1a1a1a" stroke-width="1.1" fill="none"/>
<ellipse cx="771.1" cy="647.7" rx="10.3" ry="3.1" fill="#111"/>
<ellipse cx="753.9" cy="611" rx="6.6" ry="9.2" fill="#fff" stroke="#1a1a1a" stroke-width="1.1" transform="rotate(-10 753.9 611)"/>
<path d="M751.6 596 L751.6 619.5" stroke="#1a1a1a" stroke-width="1" fill="none"/>
<path d="M756.2 595 L756.2 619" stroke="#1a1a1a" stroke-width="1" fill="none"/>
<ellipse cx="729.3" cy="622.5" rx="6.8" ry="9.3" fill="#fff" stroke="#1a1a1a" stroke-width="1.1" transform="rotate(-12 729.3 622.5)"/>
<path d="M727.3 606.5 L727.3 631" stroke="#1a1a1a" stroke-width="1" fill="none"/>
<path d="M731.5 605.5 L731.5 630.5" stroke="#1a1a1a" stroke-width="1" fill="none"/>
<path d="M720.3 623 L737.3 614.5" stroke="#1a1a1a" stroke-width="1" fill="none"/>
<path d="M721.8 628.5 L738.3 620" stroke="#1a1a1a" stroke-width="1" fill="none"/>
<path d="M729.8 631.5 L729.8 644" stroke="#1a1a1a" stroke-width="1" fill="none"/>
<polygon points="721.2,652.8 729.3,657.4 740.7,650.8 740.7,641.1 732.7,636.4 721.2,643" fill="#fff" stroke="#1a1a1a" stroke-width="1" stroke-linejoin="round"/>
<path d="M721.2 643 L729.3 647.7 L740.7 641.1" stroke="#1a1a1a" stroke-width="1" fill="none"/>
<path d="M729.3 647.7 L729.3 657.4" stroke="#1a1a1a" stroke-width="1" fill="none"/>
<circle cx="730.5" cy="644.5" r="0.9" fill="none" stroke="#555" stroke-width="0.6"/><circle cx="725.5" cy="651.5" r="0.9" fill="none" stroke="#555" stroke-width="0.6"/>
<ellipse cx="686.1" cy="651" rx="6.4" ry="9.3" fill="#fff" stroke="#1a1a1a" stroke-width="1.2" transform="rotate(-12 686.1 651)"/>
<polygon points="680.1,652.2 691.9,646 687.5,659.6" fill="#111" stroke="#111" stroke-width="0.5" stroke-linejoin="round"/>
<path d="M687.8 660 L687.8 700" stroke="#1a1a1a" stroke-width="1.2" fill="none"/>
<ellipse cx="687.8" cy="695.3" rx="10.9" ry="3.2" fill="#111"/>
<ellipse cx="629.4" cy="683.6" rx="6.4" ry="9.3" fill="#fff" stroke="#1a1a1a" stroke-width="1.2" transform="rotate(-12 629.4 683.6)"/>
<polygon points="623.4,684.8 635.2,678.6 630.8,692.2" fill="#111" stroke="#111" stroke-width="0.5" stroke-linejoin="round"/>
<path d="M630.8 693 L630.8 748" stroke="#1a1a1a" stroke-width="1.2" fill="none"/>
<ellipse cx="631.5" cy="727" rx="10.9" ry="3.2" fill="#111"/>
<ellipse cx="651.7" cy="666.4" rx="6.8" ry="9.3" fill="#fff" stroke="#1a1a1a" stroke-width="1.1" transform="rotate(-12 651.7 666.4)"/>
<path d="M649.7 650.4 L649.7 674.9" stroke="#1a1a1a" stroke-width="1" fill="none"/>
<path d="M653.9 649.4 L653.9 674.4" stroke="#1a1a1a" stroke-width="1" fill="none"/>
<path d="M642.7 666.9 L659.7 658.4" stroke="#1a1a1a" stroke-width="1" fill="none"/>
<path d="M644.2 672.4 L660.7 663.9" stroke="#1a1a1a" stroke-width="1" fill="none"/>
<path d="M652 675.5 L652 694.1" stroke="#1a1a1a" stroke-width="1.1" fill="none"/>
<ellipse cx="605.3" cy="695.1" rx="6.8" ry="9.3" fill="#fff" stroke="#1a1a1a" stroke-width="1.1" transform="rotate(-12 605.3 695.1)"/>
<path d="M603.3 679.1 L603.3 703.6" stroke="#1a1a1a" stroke-width="1" fill="none"/>
<path d="M607.5 678.1 L607.5 703.1" stroke="#1a1a1a" stroke-width="1" fill="none"/>
<path d="M596.3 695.6 L613.3 687.1" stroke="#1a1a1a" stroke-width="1" fill="none"/>
<path d="M597.8 701.1 L614.3 692.6" stroke="#1a1a1a" stroke-width="1" fill="none"/>
<path d="M605.4 704 L605.4 720" stroke="#1a1a1a" stroke-width="1.1" fill="none"/>
<ellipse cx="556.1" cy="720.3" rx="6.8" ry="9.3" fill="#fff" stroke="#1a1a1a" stroke-width="1.1" transform="rotate(-12 556.1 720.3)"/>
<path d="M554.1 704.3 L554.1 728.8" stroke="#1a1a1a" stroke-width="1" fill="none"/>
<path d="M558.3 703.3 L558.3 728.3" stroke="#1a1a1a" stroke-width="1" fill="none"/>
<path d="M547.1 720.8 L564.1 712.3" stroke="#1a1a1a" stroke-width="1" fill="none"/>
<path d="M548.6 726.3 L565.1 717.8" stroke="#1a1a1a" stroke-width="1" fill="none"/>
<path d="M531.2 717 L531.2 745" stroke="#1a1a1a" stroke-width="1.1" fill="none"/>
<path d="M535.6 717 L535.6 745" stroke="#1a1a1a" stroke-width="1.1" fill="none"/>
<ellipse cx="533.9" cy="731.6" rx="7" ry="10" fill="none" stroke="#1a1a1a" stroke-width="1.1" transform="rotate(-18 533.9 731.6)"/>
<polygon points="528.2,762 539,768.2 544.2,765.2 544.2,752.7 533.4,746.5 528.2,749.5" fill="#fff" stroke="#1a1a1a" stroke-width="1" stroke-linejoin="round"/>
<path d="M528.2 749.5 L539 755.7 L544.2 752.7" stroke="#1a1a1a" stroke-width="1" fill="none"/>
<path d="M539 755.7 L539 768.2" stroke="#1a1a1a" stroke-width="1" fill="none"/>
<path d="M533.7 768 L533.7 800" stroke="#1a1a1a" stroke-width="1.1" fill="none"/>
<ellipse cx="535.7" cy="792.6" rx="7.8" ry="2.5" fill="#111"/>
<path d="M556.3 729.5 L556.3 742.3 Q556.3 745.3 558.9 743.8 L598 721.2" stroke="#1a1a1a" stroke-width="1.1" fill="none"/>
<path d="M449.6 616.6 L431.4 606.1 A6.6 9.3 28 0 0 423.8 622.7 L442 633.2" fill="#fff" stroke="#111" stroke-width="1.1"/>
<ellipse cx="445.8" cy="624.9" rx="6.6" ry="9.3" fill="#fff" stroke="#111" stroke-width="1.1" transform="rotate(28 445.8 624.9)"/>
<circle cx="446.8" cy="622.1" r="1.3" fill="none" stroke="#111" stroke-width="0.8"/><circle cx="446.8" cy="628.5" r="1.3" fill="none" stroke="#111" stroke-width="0.8"/>
<path d="M448 622.2 L460.8 629.6 Q466 632.6 471.2 629.6 L494.9 615.9 Q497 614.7 498.9 616.2 L498.9 616.2 Q500.8 617.7 500.8 620.1 L500.8 682" stroke="#1a1a1a" stroke-width="1.1" fill="none"/>
<path d="M448 629.5 L458 635.3 Q463 638.2 466.6 642.7 L466.6 642.7 Q470.1 647.2 470.1 652.9 L470.1 692" stroke="#1a1a1a" stroke-width="1.1" fill="none"/>
<polygon points="491.1,695.2 496.2,698.2 511.7,689.2 511.7,679.5 506.6,676.6 491.1,685.5" fill="#fff" stroke="#1a1a1a" stroke-width="1" stroke-linejoin="round"/>
<path d="M491.1 685.5 L496.2 688.5 L511.7 679.5" stroke="#1a1a1a" stroke-width="1" fill="none"/>
<path d="M496.2 688.5 L496.2 698.2" stroke="#1a1a1a" stroke-width="1" fill="none"/>
<circle cx="501" cy="681.8" r="1.3" fill="none" stroke="#111" stroke-width="0.8"/>
<path d="M511 680 L514.5 678 L514.5 687.5" stroke="#1a1a1a" stroke-width="1" fill="none"/>
<path d="M500.8 698 L500.8 760" stroke="#1a1a1a" stroke-width="1.1" fill="none"/>
<ellipse cx="500.8" cy="737.5" rx="11.3" ry="3.3" fill="#111"/>
<polygon points="465.8,693.2 469.8,691 474.8,693.4 474.8,718 470.3,720.6 465.8,718" fill="#fff" stroke="#111" stroke-width="1" stroke-linejoin="round"/>
<path d="M465.8 693.2 L470.3 695.8 L474.8 693.4" stroke="#111" stroke-width="1" fill="none"/>
<path d="M470.3 695.8 L470.3 720.6" stroke="#111" stroke-width="1" fill="none"/>
<path d="M829.6 780.9 L813.1 771.4 A6.6 9.3 28 0 0 805.5 788 L822 797.5" fill="#fff" stroke="#111" stroke-width="1.1"/>
<ellipse cx="825.8" cy="789.2" rx="6.6" ry="9.3" fill="#fff" stroke="#111" stroke-width="1.1" transform="rotate(28 825.8 789.2)"/>
<circle cx="826.8" cy="786.4" r="1.3" fill="none" stroke="#111" stroke-width="0.8"/><circle cx="826.8" cy="792.8" r="1.3" fill="none" stroke="#111" stroke-width="0.8"/>
<ellipse cx="825.8" cy="789.2" rx="6.6" ry="9.3" fill="#fff" stroke="#111" stroke-width="1.1" transform="rotate(28 825.8 789.2)"/>
<path d="M812.6 793 L812.6 868" stroke="#1a1a1a" stroke-width="1.1" fill="none"/>
<polygon points="803.5,824.6 816.7,832.2 821.2,829.6 821.2,818.1 808,810.5 803.5,813.1" fill="#fff" stroke="#1a1a1a" stroke-width="1" stroke-linejoin="round"/>
<path d="M803.5 813.1 L816.7 820.7 L821.2 818.1" stroke="#1a1a1a" stroke-width="1" fill="none"/>
<path d="M816.7 820.7 L816.7 832.2" stroke="#1a1a1a" stroke-width="1" fill="none"/>
<circle cx="819.5" cy="822.4" r="1.2" fill="none" stroke="#111" stroke-width="0.8"/>
<path d="M821.8 824.1 L843.4 836.6 Q851.2 841.1 851.2 850.1 L851.2 882" stroke="#1a1a1a" stroke-width="1.1" fill="none"/>
<polygon points="807.8,869.7 811.8,867.5 816.8,869.9 816.8,895.5 812.3,898.1 807.8,895.5" fill="#fff" stroke="#111" stroke-width="1" stroke-linejoin="round"/>
<path d="M807.8 869.7 L812.3 872.3 L816.8 869.9" stroke="#111" stroke-width="1" fill="none"/>
<path d="M812.3 872.3 L812.3 898.1" stroke="#111" stroke-width="1" fill="none"/>
<polygon points="838.8,896.4 853.8,905 861.3,900.6 861.3,889.6 846.4,881 838.8,885.4" fill="#fff" stroke="#1a1a1a" stroke-width="1" stroke-linejoin="round"/>
<path d="M838.8 885.4 L853.8 894 L861.3 889.6" stroke="#1a1a1a" stroke-width="1" fill="none"/>
<path d="M853.8 894 L853.8 905" stroke="#1a1a1a" stroke-width="1" fill="none"/>
<circle cx="850.8" cy="887.8" r="1.3" fill="none" stroke="#111" stroke-width="0.8"/><circle cx="858.5" cy="896" r="1" fill="none" stroke="#111" stroke-width="0.7"/>
<path d="M860 897 L865 900 L865 907" stroke="#1a1a1a" stroke-width="1" fill="none"/>
<path d="M851.2 903 L851.2 970" stroke="#1a1a1a" stroke-width="1.1" fill="none"/>
<ellipse cx="851.2" cy="956.3" rx="11.5" ry="3.5" fill="#111"/>
<polygon points="443.8,910 459.7,919.5 459.7,935.5 443.8,926.5" fill="#fff" stroke="#8a8a8a" stroke-width="0.8" stroke-linejoin="round"/>
<polygon points="443.8,910 479.5,889.5 495.5,898.5 459.7,919.5" fill="#fff" stroke="#1a1a1a" stroke-width="1.4" stroke-linejoin="round"/>
<polygon points="459.7,919.5 495.5,898.5 496,915 459.7,935.5" fill="#fff" stroke="#8a8a8a" stroke-width="0.8" stroke-linejoin="round"/>
<path d="M495.5 898.5 L496 915 L459.7 935.5" stroke="#1a1a1a" stroke-width="1.4" fill="none"/>
<path d="M452 923.5 L487 903.3" stroke="#8a8a8a" stroke-width="0.7" fill="none" stroke-dasharray="4 2"/>
<path d="M455 929 L491 908.5" stroke="#8a8a8a" stroke-width="0.7" fill="none" stroke-dasharray="4 2"/>
<path d="M436.1 928.4 L452 919.3" stroke="#1a1a1a" stroke-width="1.2" fill="none"/>
<path d="M443.2 931.6 L458 923" stroke="#1a1a1a" stroke-width="1.2" fill="none"/>
<path d="M425.5 930 Q431 927 433.5 932.5 T443.5 936.5" stroke="#111" stroke-width="1.1" fill="none"/>
<g transform="translate(1292 270.8) rotate(-22)">
<ellipse cx="5" cy="2.2" rx="10.3" ry="13.8" fill="#fff" stroke="#333" stroke-width="1"/>
<ellipse cx="0" cy="0" rx="10.3" ry="13.8" fill="#fff" stroke="#222" stroke-width="1.1"/>
<path d="M0 0 L0 -13.8 A10.3 13.8 0 0 0 -10.3 0 Z" fill="#3a3a3a"/>
<path d="M0 0 L0 13.8 A10.3 13.8 0 0 0 10.3 0 Z" fill="#3a3a3a"/>
</g>
<circle cx="447.5" cy="262.8" r="2.1" fill="none" stroke="#2f6fe0" stroke-width="0.9"/>
<path d="M445.7 261.7 L421.5 247.5 L413 252.5" stroke="#2f6fe0" stroke-width="0.9" fill="none"/>
<text transform="matrix(0.667 -0.385 -0.314 1.261 384 266.6)" font-size="13" fill="#2f6fe0" stroke="#2f6fe0" stroke-width="0.3" textLength="37.7" lengthAdjust="spacingAndGlyphs">P2127</text>
<text transform="matrix(0.667 -0.385 -0.314 1.261 384.8 283.6)" font-size="13" fill="#2f6fe0" stroke="#2f6fe0" stroke-width="0.3" textLength="53.9" lengthAdjust="spacingAndGlyphs">P29C016</text>
<circle cx="746.5" cy="192.1" r="2.1" fill="none" stroke="#2f6fe0" stroke-width="0.9"/>
<path d="M744.7 193.1 L717.5 208.8" stroke="#2f6fe0" stroke-width="0.9" fill="none"/>
<text transform="matrix(0.667 -0.385 -0.314 1.261 687.5 223.4)" font-size="13" fill="#2f6fe0" stroke="#2f6fe0" stroke-width="0.3" textLength="37.7" lengthAdjust="spacingAndGlyphs">P2127</text>
<text transform="matrix(0.667 -0.385 -0.314 1.261 688.3 240.4)" font-size="13" fill="#2f6fe0" stroke="#2f6fe0" stroke-width="0.3" textLength="53.9" lengthAdjust="spacingAndGlyphs">P29C016</text>
<circle cx="862.5" cy="259.1" r="2.1" fill="none" stroke="#2f6fe0" stroke-width="0.9"/>
<path d="M860.7 260.1 L832.3 276.5" stroke="#2f6fe0" stroke-width="0.9" fill="none"/>
<text transform="matrix(0.667 -0.385 -0.314 1.261 802.3 291.1)" font-size="13" fill="#2f6fe0" stroke="#2f6fe0" stroke-width="0.3" textLength="37.7" lengthAdjust="spacingAndGlyphs">P2127</text>
<text transform="matrix(0.667 -0.385 -0.314 1.261 803.1 308.1)" font-size="13" fill="#2f6fe0" stroke="#2f6fe0" stroke-width="0.3" textLength="53.9" lengthAdjust="spacingAndGlyphs">P29C016</text>
<circle cx="143.8" cy="519.5" r="2.1" fill="none" stroke="#2f6fe0" stroke-width="0.9"/>
<path d="M142 520.6 L130 527.5" stroke="#2f6fe0" stroke-width="0.9" fill="none"/>
<text transform="matrix(0.667 -0.385 -0.314 1.261 100 542.1)" font-size="13" fill="#2f6fe0" stroke="#2f6fe0" stroke-width="0.3" textLength="37.7" lengthAdjust="spacingAndGlyphs">P2127</text>
<text transform="matrix(0.667 -0.385 -0.314 1.261 100.8 559.1)" font-size="13" fill="#2f6fe0" stroke="#2f6fe0" stroke-width="0.3" textLength="53.9" lengthAdjust="spacingAndGlyphs">P29C016</text>
<circle cx="1058.3" cy="250" r="2.1" fill="none" stroke="#2f6fe0" stroke-width="0.9"/>
<path d="M1060.1 251.1 L1068.5 256" stroke="#2f6fe0" stroke-width="0.9" fill="none"/>
<text transform="matrix(0.667 0.385 0.054 1.039 1072 258.2)" font-size="13" fill="#2f6fe0" stroke="#2f6fe0" stroke-width="0.3" textLength="37.7" lengthAdjust="spacingAndGlyphs">P2127</text>
<text transform="matrix(0.667 0.385 0.054 1.039 1064 269.2)" font-size="13" fill="#2f6fe0" stroke="#2f6fe0" stroke-width="0.3" textLength="53.9" lengthAdjust="spacingAndGlyphs">P29C003</text>
<circle cx="1025.7" cy="432" r="2.1" fill="none" stroke="#2f6fe0" stroke-width="0.9"/>
<path d="M1025.7 429.9 L1025.6 320 L1032 323.5" stroke="#2f6fe0" stroke-width="0.9" fill="none"/>
<text transform="matrix(0.667 0.385 0.054 1.039 1035.5 325.7)" font-size="13" fill="#2f6fe0" stroke="#2f6fe0" stroke-width="0.3" textLength="37.7" lengthAdjust="spacingAndGlyphs">P2127</text>
<text transform="matrix(0.667 0.385 0.054 1.039 1027.5 336.7)" font-size="13" fill="#2f6fe0" stroke="#2f6fe0" stroke-width="0.3" textLength="53.9" lengthAdjust="spacingAndGlyphs">P29C006</text>
<circle cx="840.8" cy="510.5" r="2.1" fill="none" stroke="#2f6fe0" stroke-width="0.9"/>
<path d="M840.8 508.4 L840.8 405 L856 396" stroke="#2f6fe0" stroke-width="0.9" fill="none"/>
<text transform="matrix(0.667 -0.385 -0.314 1.261 858.5 390.5)" font-size="13" fill="#2f6fe0" stroke="#2f6fe0" stroke-width="0.3" textLength="37.7" lengthAdjust="spacingAndGlyphs">P2127</text>
<text transform="matrix(0.667 -0.385 -0.314 1.261 857.8 408.3)" font-size="13" fill="#2f6fe0" stroke="#2f6fe0" stroke-width="0.3" textLength="53.9" lengthAdjust="spacingAndGlyphs">P29C007</text>
<circle cx="1197.4" cy="364.2" r="2.1" fill="none" stroke="#2f6fe0" stroke-width="0.9"/>
<path d="M1199.2 365.2 L1219 376.5" stroke="#2f6fe0" stroke-width="0.9" fill="none"/>
<text transform="matrix(0.667 0.385 0.054 1.039 1222.5 378.7)" font-size="13" fill="#2f6fe0" stroke="#2f6fe0" stroke-width="0.3" textLength="37.7" lengthAdjust="spacingAndGlyphs">P2127</text>
<text transform="matrix(0.667 0.385 0.054 1.039 1214.5 389.7)" font-size="13" fill="#2f6fe0" stroke="#2f6fe0" stroke-width="0.3" textLength="53.9" lengthAdjust="spacingAndGlyphs">P29C007</text>
<circle cx="1233.7" cy="241" r="2.1" fill="none" stroke="#2f6fe0" stroke-width="0.9"/>
<path d="M1235.5 240 L1256 228.8" stroke="#2f6fe0" stroke-width="0.9" fill="none"/>
<text transform="matrix(0.667 -0.385 -0.314 1.261 1258.5 223.3)" font-size="13" fill="#2f6fe0" stroke="#2f6fe0" stroke-width="0.3" textLength="37.7" lengthAdjust="spacingAndGlyphs">P2127</text>
<text transform="matrix(0.667 -0.385 -0.314 1.261 1257.8 241.1)" font-size="13" fill="#2f6fe0" stroke="#2f6fe0" stroke-width="0.3" textLength="53.9" lengthAdjust="spacingAndGlyphs">P29C007</text>
<circle cx="1208.7" cy="248.5" r="2.1" fill="none" stroke="#2f6fe0" stroke-width="0.9"/>
<path d="M1210.5 249.6 L1227.5 259.5" stroke="#2f6fe0" stroke-width="0.9" fill="none"/>
<text transform="matrix(0.667 0.385 0.054 1.039 1231 261.7)" font-size="13" fill="#2f6fe0" stroke="#2f6fe0" stroke-width="0.3" textLength="37.7" lengthAdjust="spacingAndGlyphs">P2127</text>
<text transform="matrix(0.667 0.385 0.054 1.039 1223 272.7)" font-size="13" fill="#2f6fe0" stroke="#2f6fe0" stroke-width="0.3" textLength="53.9" lengthAdjust="spacingAndGlyphs">P29C007</text>
<circle cx="1296.2" cy="333.8" r="2.1" fill="none" stroke="#2f6fe0" stroke-width="0.9"/>
<path d="M1298 332.8 L1316 322.5" stroke="#2f6fe0" stroke-width="0.9" fill="none"/>
<text transform="matrix(0.667 -0.385 -0.314 1.261 1318.5 317)" font-size="13" fill="#2f6fe0" stroke="#2f6fe0" stroke-width="0.3" textLength="37.7" lengthAdjust="spacingAndGlyphs">P2127</text>
<text transform="matrix(0.667 -0.385 -0.314 1.261 1317.8 334.8)" font-size="13" fill="#2f6fe0" stroke="#2f6fe0" stroke-width="0.3" textLength="53.9" lengthAdjust="spacingAndGlyphs">P29C003</text>
<circle cx="1253.1" cy="470.2" r="2.1" fill="none" stroke="#2f6fe0" stroke-width="0.9"/>
<path d="M1251.3 471.3 L1214 493.1" stroke="#2f6fe0" stroke-width="0.9" fill="none"/>
<text transform="matrix(0.667 -0.385 -0.314 1.261 1184 507.7)" font-size="13" fill="#2f6fe0" stroke="#2f6fe0" stroke-width="0.3" textLength="37.7" lengthAdjust="spacingAndGlyphs">P2127</text>
<text transform="matrix(0.667 -0.385 -0.314 1.261 1184.8 524.7)" font-size="13" fill="#2f6fe0" stroke="#2f6fe0" stroke-width="0.3" textLength="53.9" lengthAdjust="spacingAndGlyphs">P29C015</text>
<circle cx="1315.8" cy="506.3" r="2.1" fill="none" stroke="#2f6fe0" stroke-width="0.9"/>
<path d="M1315.8 504.2 L1315.8 473.8 L1326 478.8" stroke="#2f6fe0" stroke-width="0.9" fill="none"/>
<text transform="matrix(0.667 0.385 0.054 1.039 1329.5 481)" font-size="13" fill="#2f6fe0" stroke="#2f6fe0" stroke-width="0.3" textLength="37.7" lengthAdjust="spacingAndGlyphs">P2127</text>
<text transform="matrix(0.667 0.385 0.054 1.039 1321.5 492)" font-size="13" fill="#2f6fe0" stroke="#2f6fe0" stroke-width="0.3" textLength="53.9" lengthAdjust="spacingAndGlyphs">P29C015</text>
<circle cx="1120.3" cy="509.8" r="2.1" fill="none" stroke="#2f6fe0" stroke-width="0.9"/>
<path d="M1122.1 510.8 L1148.8 525.7" stroke="#2f6fe0" stroke-width="0.9" fill="none"/>
<text transform="matrix(0.667 0.385 0.054 1.039 1152.3 527.9)" font-size="13" fill="#2f6fe0" stroke="#2f6fe0" stroke-width="0.3" textLength="37.7" lengthAdjust="spacingAndGlyphs">P2127</text>
<text transform="matrix(0.667 0.385 0.054 1.039 1144.3 538.9)" font-size="13" fill="#2f6fe0" stroke="#2f6fe0" stroke-width="0.3" textLength="53.9" lengthAdjust="spacingAndGlyphs">P29C003</text>
<circle cx="1061.4" cy="522.6" r="2.1" fill="none" stroke="#2f6fe0" stroke-width="0.9"/>
<path d="M1063.2 523.7 L1113.4 552.7" stroke="#2f6fe0" stroke-width="0.9" fill="none"/>
<text transform="matrix(0.667 0.385 0.054 1.039 1116.9 554.9)" font-size="13" fill="#2f6fe0" stroke="#2f6fe0" stroke-width="0.3" textLength="37.7" lengthAdjust="spacingAndGlyphs">P2127</text>
<text transform="matrix(0.667 0.385 0.054 1.039 1108.9 565.9)" font-size="13" fill="#2f6fe0" stroke="#2f6fe0" stroke-width="0.3" textLength="53.9" lengthAdjust="spacingAndGlyphs">P29C007</text>
<circle cx="1040.5" cy="563" r="2.1" fill="none" stroke="#2f6fe0" stroke-width="0.9"/>
<path d="M1042.3 564 L1078.8 585" stroke="#2f6fe0" stroke-width="0.9" fill="none"/>
<text transform="matrix(0.667 0.385 0.054 1.039 1082.3 587.2)" font-size="13" fill="#2f6fe0" stroke="#2f6fe0" stroke-width="0.3" textLength="37.7" lengthAdjust="spacingAndGlyphs">P2127</text>
<text transform="matrix(0.667 0.385 0.054 1.039 1074.3 598.2)" font-size="13" fill="#2f6fe0" stroke="#2f6fe0" stroke-width="0.3" textLength="53.9" lengthAdjust="spacingAndGlyphs">P29C004</text>
<circle cx="998.8" cy="580" r="2.1" fill="none" stroke="#2f6fe0" stroke-width="0.9"/>
<path d="M1000.6 581 L1041.3 604.5" stroke="#2f6fe0" stroke-width="0.9" fill="none"/>
<text transform="matrix(0.667 0.385 0.054 1.039 1044.8 606.7)" font-size="13" fill="#2f6fe0" stroke="#2f6fe0" stroke-width="0.3" textLength="37.7" lengthAdjust="spacingAndGlyphs">P2127</text>
<text transform="matrix(0.667 0.385 0.054 1.039 1036.8 617.7)" font-size="13" fill="#2f6fe0" stroke="#2f6fe0" stroke-width="0.3" textLength="53.9" lengthAdjust="spacingAndGlyphs">P29C003</text>
<circle cx="857" cy="610" r="2.1" fill="none" stroke="#2f6fe0" stroke-width="0.9"/>
<path d="M858.8 611.1 L950 663.7" stroke="#2f6fe0" stroke-width="0.9" fill="none"/>
<text transform="matrix(0.667 0.385 0.054 1.039 953.5 665.9)" font-size="13" fill="#2f6fe0" stroke="#2f6fe0" stroke-width="0.3" textLength="37.7" lengthAdjust="spacingAndGlyphs">P2127</text>
<text transform="matrix(0.667 0.385 0.054 1.039 945.5 676.9)" font-size="13" fill="#2f6fe0" stroke="#2f6fe0" stroke-width="0.3" textLength="53.9" lengthAdjust="spacingAndGlyphs">P29C002</text>
<circle cx="845.5" cy="611" r="2.1" fill="none" stroke="#2f6fe0" stroke-width="0.9"/>
<path d="M845.5 608.9 L845 576.7 L827.8 566.9" stroke="#2f6fe0" stroke-width="0.9" fill="none"/>
<text transform="matrix(0.667 0.385 0.054 1.039 802.3 543.9)" font-size="13" fill="#2f6fe0" stroke="#2f6fe0" stroke-width="0.3" textLength="37.7" lengthAdjust="spacingAndGlyphs">P2127</text>
<text transform="matrix(0.667 0.385 0.054 1.039 794.3 555.4)" font-size="13" fill="#2f6fe0" stroke="#2f6fe0" stroke-width="0.3" textLength="53.9" lengthAdjust="spacingAndGlyphs">P29C001</text>
<circle cx="888" cy="667.5" r="2.1" fill="none" stroke="#2f6fe0" stroke-width="0.9"/>
<path d="M889.8 668.5 L947.5 701.8" stroke="#2f6fe0" stroke-width="0.9" fill="none"/>
<text transform="matrix(0.667 0.385 0.054 1.039 951 704)" font-size="13" fill="#2f6fe0" stroke="#2f6fe0" stroke-width="0.3" textLength="37.7" lengthAdjust="spacingAndGlyphs">P2127</text>
<text transform="matrix(0.667 0.385 0.054 1.039 943 715)" font-size="13" fill="#2f6fe0" stroke="#2f6fe0" stroke-width="0.3" textLength="53.9" lengthAdjust="spacingAndGlyphs">P29C048</text>
<circle cx="858.3" cy="674.3" r="2.1" fill="none" stroke="#2f6fe0" stroke-width="0.9"/>
<path d="M860.1 675.3 L905 701.2" stroke="#2f6fe0" stroke-width="0.9" fill="none"/>
<text transform="matrix(0.667 0.385 0.054 1.039 908.5 703.4)" font-size="13" fill="#2f6fe0" stroke="#2f6fe0" stroke-width="0.3" textLength="37.7" lengthAdjust="spacingAndGlyphs">P2127</text>
<text transform="matrix(0.667 0.385 0.054 1.039 900.5 714.4)" font-size="13" fill="#2f6fe0" stroke="#2f6fe0" stroke-width="0.3" textLength="53.9" lengthAdjust="spacingAndGlyphs">P29C005</text>
<circle cx="784.8" cy="696.1" r="2.1" fill="none" stroke="#2f6fe0" stroke-width="0.9"/>
<path d="M786.6 697.2 L827.5 720.8" stroke="#2f6fe0" stroke-width="0.9" fill="none"/>
<text transform="matrix(0.667 0.385 0.054 1.039 831 723)" font-size="13" fill="#2f6fe0" stroke="#2f6fe0" stroke-width="0.3" textLength="37.7" lengthAdjust="spacingAndGlyphs">P2127</text>
<text transform="matrix(0.667 0.385 0.054 1.039 823 734)" font-size="13" fill="#2f6fe0" stroke="#2f6fe0" stroke-width="0.3" textLength="53.9" lengthAdjust="spacingAndGlyphs">P29C014</text>
<circle cx="748.6" cy="711.4" r="2.1" fill="none" stroke="#2f6fe0" stroke-width="0.9"/>
<path d="M750.4 712.5 L798.6 740.3" stroke="#2f6fe0" stroke-width="0.9" fill="none"/>
<text transform="matrix(0.667 0.385 0.054 1.039 802.1 742.5)" font-size="13" fill="#2f6fe0" stroke="#2f6fe0" stroke-width="0.3" textLength="37.7" lengthAdjust="spacingAndGlyphs">P2127</text>
<text transform="matrix(0.667 0.385 0.054 1.039 794.1 753.5)" font-size="13" fill="#2f6fe0" stroke="#2f6fe0" stroke-width="0.3" textLength="53.9" lengthAdjust="spacingAndGlyphs">P29C013</text>
<circle cx="716.7" cy="735.4" r="2.1" fill="none" stroke="#2f6fe0" stroke-width="0.9"/>
<path d="M718.5 736.5 L766.7 764.3" stroke="#2f6fe0" stroke-width="0.9" fill="none"/>
<text transform="matrix(0.667 0.385 0.054 1.039 770.2 766.5)" font-size="13" fill="#2f6fe0" stroke="#2f6fe0" stroke-width="0.3" textLength="37.7" lengthAdjust="spacingAndGlyphs">P2127</text>
<text transform="matrix(0.667 0.385 0.054 1.039 762.2 777.5)" font-size="13" fill="#2f6fe0" stroke="#2f6fe0" stroke-width="0.3" textLength="53.9" lengthAdjust="spacingAndGlyphs">P29C014</text>
<circle cx="600.8" cy="808.1" r="2.1" fill="none" stroke="#2f6fe0" stroke-width="0.9"/>
<path d="M602.6 809.1 L644.8 833.5" stroke="#2f6fe0" stroke-width="0.9" fill="none"/>
<text transform="matrix(0.667 0.385 0.054 1.039 648.3 835.7)" font-size="13" fill="#2f6fe0" stroke="#2f6fe0" stroke-width="0.3" textLength="37.7" lengthAdjust="spacingAndGlyphs">P2127</text>
<text transform="matrix(0.667 0.385 0.054 1.039 640.3 846.7)" font-size="13" fill="#2f6fe0" stroke="#2f6fe0" stroke-width="0.3" textLength="53.9" lengthAdjust="spacingAndGlyphs">P29C005</text>
<circle cx="511.4" cy="884.4" r="2.1" fill="none" stroke="#2f6fe0" stroke-width="0.9"/>
<path d="M509.6 883.4 L492.9 874.2" stroke="#2f6fe0" stroke-width="0.9" fill="none"/>
<text transform="matrix(0.667 0.385 0.054 1.039 464.9 853.7)" font-size="13" fill="#2f6fe0" stroke="#2f6fe0" stroke-width="0.3" textLength="37.7" lengthAdjust="spacingAndGlyphs">P2127</text>
<text transform="matrix(0.667 0.385 0.054 1.039 456.9 865.2)" font-size="13" fill="#2f6fe0" stroke="#2f6fe0" stroke-width="0.3" textLength="53.9" lengthAdjust="spacingAndGlyphs">P29C048</text>
<circle cx="501.3" cy="716.3" r="2.1" fill="none" stroke="#e8607a" stroke-width="0.9"/>
<path d="M499.5 717.3 L471.3 732.5" stroke="#e8607a" stroke-width="0.9" fill="none"/>
<text transform="matrix(0.667 -0.385 -0.314 1.261 441.3 747.1)" font-size="13" fill="#2f6fe0" stroke="#2f6fe0" stroke-width="0.3" textLength="37.7" lengthAdjust="spacingAndGlyphs">P2127</text>
<text transform="matrix(0.667 -0.385 -0.314 1.261 442.1 764.1)" font-size="13" fill="#2f6fe0" stroke="#2f6fe0" stroke-width="0.3" textLength="53.9" lengthAdjust="spacingAndGlyphs">P29C005</text>
<circle cx="1460" cy="597.5" r="2.1" fill="none" stroke="#2f6fe0" stroke-width="0.9"/>
<path d="M1458.2 598.5 L1418.8 620" stroke="#2f6fe0" stroke-width="0.9" fill="none"/>
<text transform="matrix(0.667 -0.385 -0.314 1.261 1388.8 634.6)" font-size="13" fill="#2f6fe0" stroke="#2f6fe0" stroke-width="0.3" textLength="37.7" lengthAdjust="spacingAndGlyphs">P2127</text>
<text transform="matrix(0.667 -0.385 -0.314 1.261 1389.6 651.6)" font-size="13" fill="#2f6fe0" stroke="#2f6fe0" stroke-width="0.3" textLength="53.9" lengthAdjust="spacingAndGlyphs">P29C003</text>
<circle cx="1509.8" cy="544.5" r="2.1" fill="none" stroke="#2f6fe0" stroke-width="0.9"/>
<path d="M1511.6 543.4 L1530.5 532.5" stroke="#2f6fe0" stroke-width="0.9" fill="none"/>
<text transform="matrix(0.667 -0.385 -0.314 1.261 1533 527)" font-size="13" fill="#2f6fe0" stroke="#2f6fe0" stroke-width="0.3" textLength="37.7" lengthAdjust="spacingAndGlyphs">P2127</text>
<text transform="matrix(0.667 -0.385 -0.314 1.261 1532.3 544.8)" font-size="13" fill="#2f6fe0" stroke="#2f6fe0" stroke-width="0.3" textLength="53.9" lengthAdjust="spacingAndGlyphs">P29C003</text>
<circle cx="1185" cy="790" r="2.1" fill="none" stroke="#2f6fe0" stroke-width="0.9"/>
<path d="M1183.2 789 L1157.5 774.2" stroke="#2f6fe0" stroke-width="0.9" fill="none"/>
<text transform="matrix(0.667 0.385 0.054 1.039 1129.5 753.7)" font-size="13" fill="#2f6fe0" stroke="#2f6fe0" stroke-width="0.3" textLength="37.7" lengthAdjust="spacingAndGlyphs">P2127</text>
<text transform="matrix(0.667 0.385 0.054 1.039 1121.5 765.2)" font-size="13" fill="#2f6fe0" stroke="#2f6fe0" stroke-width="0.3" textLength="53.9" lengthAdjust="spacingAndGlyphs">P29C004</text>
<circle cx="851.2" cy="944.3" r="2.1" fill="none" stroke="#2f6fe0" stroke-width="0.9"/>
<path d="M849.4 943.3 L826.3 930" stroke="#2f6fe0" stroke-width="0.9" fill="none"/>
<text transform="matrix(0.667 0.385 0.054 1.039 798.3 909.5)" font-size="13" fill="#2f6fe0" stroke="#2f6fe0" stroke-width="0.3" textLength="37.7" lengthAdjust="spacingAndGlyphs">P2127</text>
<text transform="matrix(0.667 0.385 0.054 1.039 790.3 921)" font-size="13" fill="#2f6fe0" stroke="#2f6fe0" stroke-width="0.3" textLength="53.9" lengthAdjust="spacingAndGlyphs">P29C004</text>
<circle cx="718.4" cy="138.6" r="2.1" fill="none" stroke="#e8607a" stroke-width="0.9"/>
<path d="M720.2 139.7 L740.9 151.6" stroke="#e8607a" stroke-width="0.9" fill="none"/>
<text transform="matrix(0.667 0.385 0.054 1.039 744.4 153.8)" font-size="13" fill="#e8607a" stroke="#e8607a" stroke-width="0.3" textLength="37.7" lengthAdjust="spacingAndGlyphs">P2127</text>
<text transform="matrix(0.667 0.385 0.054 1.039 736.4 164.8)" font-size="13" fill="#e8607a" stroke="#e8607a" stroke-width="0.3" textLength="53.9" lengthAdjust="spacingAndGlyphs">PVENZ02</text>
<circle cx="926.4" cy="84.9" r="2.1" fill="none" stroke="#e8607a" stroke-width="0.9"/>
<path d="M926.4 82.8 L926.4 44.1 L941.4 52.5" stroke="#e8607a" stroke-width="0.9" fill="none"/>
<text transform="matrix(0.667 0.385 0.054 1.039 944.9 54.7)" font-size="13" fill="#e8607a" stroke="#e8607a" stroke-width="0.3" textLength="37.7" lengthAdjust="spacingAndGlyphs">P2127</text>
<text transform="matrix(0.667 0.385 0.054 1.039 936.9 65.7)" font-size="13" fill="#e8607a" stroke="#e8607a" stroke-width="0.3" textLength="53.9" lengthAdjust="spacingAndGlyphs">PVENZ02</text>
<circle cx="1065.9" cy="232.7" r="2.1" fill="none" stroke="#e8607a" stroke-width="0.9"/>
<path d="M1065.9 230.6 L1065.9 190.5 L1060.3 187.4" stroke="#e8607a" stroke-width="0.9" fill="none"/>
<text transform="matrix(0.667 0.385 0.054 1.039 1030.3 169.4)" font-size="13" fill="#e8607a" stroke="#e8607a" stroke-width="0.3" textLength="37.7" lengthAdjust="spacingAndGlyphs">P2127</text>
<text transform="matrix(0.667 0.385 0.054 1.039 1022.3 180.9)" font-size="13" fill="#e8607a" stroke="#e8607a" stroke-width="0.3" textLength="53.9" lengthAdjust="spacingAndGlyphs">PVENZ02</text>
<circle cx="425" cy="307.7" r="2.1" fill="none" stroke="#e8607a" stroke-width="0.9"/>
<path d="M426.8 308.8 L448.5 321.3" stroke="#e8607a" stroke-width="0.9" fill="none"/>
<text transform="matrix(0.667 0.385 0.054 1.039 452 323.5)" font-size="13" fill="#e8607a" stroke="#e8607a" stroke-width="0.3" textLength="37.7" lengthAdjust="spacingAndGlyphs">P2127</text>
<text transform="matrix(0.667 0.385 0.054 1.039 444 334.5)" font-size="13" fill="#e8607a" stroke="#e8607a" stroke-width="0.3" textLength="53.9" lengthAdjust="spacingAndGlyphs">PVENZ02</text>
<circle cx="513" cy="362.5" r="2.1" fill="none" stroke="#e8607a" stroke-width="0.9"/>
<path d="M514.8 363.6 L536 375.8" stroke="#e8607a" stroke-width="0.9" fill="none"/>
<text transform="matrix(0.667 0.385 0.054 1.039 539.5 378)" font-size="13" fill="#e8607a" stroke="#e8607a" stroke-width="0.3" textLength="37.7" lengthAdjust="spacingAndGlyphs">P2127</text>
<text transform="matrix(0.667 0.385 0.054 1.039 531.5 389)" font-size="13" fill="#e8607a" stroke="#e8607a" stroke-width="0.3" textLength="53.9" lengthAdjust="spacingAndGlyphs">PVENZ02</text>
<circle cx="349.5" cy="457" r="2.1" fill="none" stroke="#e8607a" stroke-width="0.9"/>
<path d="M351.3 458.1 L372.5 470.3" stroke="#e8607a" stroke-width="0.9" fill="none"/>
<text transform="matrix(0.667 0.385 0.054 1.039 376 472.5)" font-size="13" fill="#e8607a" stroke="#e8607a" stroke-width="0.3" textLength="37.7" lengthAdjust="spacingAndGlyphs">P2127</text>
<text transform="matrix(0.667 0.385 0.054 1.039 368 483.5)" font-size="13" fill="#e8607a" stroke="#e8607a" stroke-width="0.3" textLength="53.9" lengthAdjust="spacingAndGlyphs">PVENZ02</text>
<circle cx="298.8" cy="511.2" r="2.1" fill="none" stroke="#e8607a" stroke-width="0.9"/>
<path d="M298.8 513.3 L298.8 548.3 L315.5 558.4" stroke="#e8607a" stroke-width="0.9" fill="none"/>
<text transform="matrix(0.667 0.385 0.054 1.039 319 560.6)" font-size="13" fill="#e8607a" stroke="#e8607a" stroke-width="0.3" textLength="37.7" lengthAdjust="spacingAndGlyphs">P2127</text>
<text transform="matrix(0.667 0.385 0.054 1.039 311 571.6)" font-size="13" fill="#e8607a" stroke="#e8607a" stroke-width="0.3" textLength="53.9" lengthAdjust="spacingAndGlyphs">CLCPZ02</text>
<circle cx="287" cy="583.8" r="2.1" fill="none" stroke="#e8607a" stroke-width="0.9"/>
<path d="M285.2 584.8 L257.5 600.8" stroke="#e8607a" stroke-width="0.9" fill="none"/>
<text transform="matrix(0.667 -0.385 -0.314 1.261 227.5 615.4)" font-size="13" fill="#e8607a" stroke="#e8607a" stroke-width="0.3" textLength="37.7" lengthAdjust="spacingAndGlyphs">P2127</text>
<text transform="matrix(0.667 -0.385 -0.314 1.261 228.3 632.4)" font-size="13" fill="#e8607a" stroke="#e8607a" stroke-width="0.3" textLength="61.7" lengthAdjust="spacingAndGlyphs">PREC1Z02</text>
<circle cx="750" cy="386" r="2.1" fill="none" stroke="#e8607a" stroke-width="0.9"/>
<path d="M751.8 387.1 L781 403.9" stroke="#e8607a" stroke-width="0.9" fill="none"/>
<text transform="matrix(0.667 0.385 0.054 1.039 784.5 406.1)" font-size="13" fill="#e8607a" stroke="#e8607a" stroke-width="0.3" textLength="37.7" lengthAdjust="spacingAndGlyphs">P2127</text>
<text transform="matrix(0.667 0.385 0.054 1.039 776.5 417.1)" font-size="13" fill="#e8607a" stroke="#e8607a" stroke-width="0.3" textLength="53.9" lengthAdjust="spacingAndGlyphs">PRECZ02</text>
<circle cx="930.5" cy="305.7" r="2.1" fill="none" stroke="#e8607a" stroke-width="0.9"/>
<path d="M928.7 306.7 L901 322.7" stroke="#e8607a" stroke-width="0.9" fill="none"/>
<text transform="matrix(0.667 -0.385 -0.314 1.261 871 337.3)" font-size="13" fill="#e8607a" stroke="#e8607a" stroke-width="0.3" textLength="37.7" lengthAdjust="spacingAndGlyphs">P2127</text>
<text transform="matrix(0.667 -0.385 -0.314 1.261 871.8 354.3)" font-size="13" fill="#e8607a" stroke="#e8607a" stroke-width="0.3" textLength="53.9" lengthAdjust="spacingAndGlyphs">PRECZ02</text>
<circle cx="1009.2" cy="352.5" r="2.1" fill="none" stroke="#e8607a" stroke-width="0.9"/>
<path d="M1009.2 350.4 L1009.2 314.9 L1018.4 309.3" stroke="#e8607a" stroke-width="0.9" fill="none"/>
<text transform="matrix(0.667 -0.385 -0.314 1.261 1020.9 295.8)" font-size="13" fill="#e8607a" stroke="#e8607a" stroke-width="0.3" textLength="37.7" lengthAdjust="spacingAndGlyphs">P2127</text>
<text transform="matrix(0.667 -0.385 -0.314 1.261 1020.2 313.6)" font-size="13" fill="#e8607a" stroke="#e8607a" stroke-width="0.3" textLength="53.9" lengthAdjust="spacingAndGlyphs">PRECZ02</text>
<circle cx="976.4" cy="391.5" r="2.1" fill="none" stroke="#e8607a" stroke-width="0.9"/>
<path d="M974.6 390.5 L952.8 377.9" stroke="#e8607a" stroke-width="0.9" fill="none"/>
<text transform="matrix(0.667 0.385 0.054 1.039 924.8 357.4)" font-size="13" fill="#e8607a" stroke="#e8607a" stroke-width="0.3" textLength="37.7" lengthAdjust="spacingAndGlyphs">P2127</text>
<text transform="matrix(0.667 0.385 0.054 1.039 916.8 368.9)" font-size="13" fill="#e8607a" stroke="#e8607a" stroke-width="0.3" textLength="53.9" lengthAdjust="spacingAndGlyphs">PVENZ02</text>
<circle cx="1089" cy="419.8" r="2.1" fill="none" stroke="#e8607a" stroke-width="0.9"/>
<path d="M1089 417.7 L1089 316.4 L1108.8 304.7" stroke="#e8607a" stroke-width="0.9" fill="none"/>
<text transform="matrix(0.667 -0.385 -0.314 1.261 1111.3 299.2)" font-size="13" fill="#e8607a" stroke="#e8607a" stroke-width="0.3" textLength="37.7" lengthAdjust="spacingAndGlyphs">P2127</text>
<text transform="matrix(0.667 -0.385 -0.314 1.261 1110.6 317)" font-size="13" fill="#e8607a" stroke="#e8607a" stroke-width="0.3" textLength="53.9" lengthAdjust="spacingAndGlyphs">PCOMCAB</text>
<circle cx="1301.8" cy="490.1" r="2.1" fill="none" stroke="#e8607a" stroke-width="0.9"/>
<path d="M1300 491.2 L1257 516" stroke="#e8607a" stroke-width="0.9" fill="none"/>
<text transform="matrix(0.667 -0.385 -0.314 1.261 1227 530.6)" font-size="13" fill="#e8607a" stroke="#e8607a" stroke-width="0.3" textLength="37.7" lengthAdjust="spacingAndGlyphs">P2127</text>
<text transform="matrix(0.667 -0.385 -0.314 1.261 1227.8 547.6)" font-size="13" fill="#e8607a" stroke="#e8607a" stroke-width="0.3" textLength="53.9" lengthAdjust="spacingAndGlyphs">PRECZ01</text>
<circle cx="1423" cy="559.8" r="2.1" fill="none" stroke="#e8607a" stroke-width="0.9"/>
<path d="M1421.2 560.8 L1373.1 588.6" stroke="#e8607a" stroke-width="0.9" fill="none"/>
<text transform="matrix(0.667 -0.385 -0.314 1.261 1343.1 603.2)" font-size="13" fill="#e8607a" stroke="#e8607a" stroke-width="0.3" textLength="37.7" lengthAdjust="spacingAndGlyphs">P2127</text>
<text transform="matrix(0.667 -0.385 -0.314 1.261 1343.9 620.2)" font-size="13" fill="#e8607a" stroke="#e8607a" stroke-width="0.3" textLength="53.9" lengthAdjust="spacingAndGlyphs">PRECZ01</text>
<circle cx="879.8" cy="586" r="2.1" fill="none" stroke="#e8607a" stroke-width="0.9"/>
<path d="M881.6 587 L967.5 636.6" stroke="#e8607a" stroke-width="0.9" fill="none"/>
<text transform="matrix(0.667 0.385 0.054 1.039 971 638.8)" font-size="13" fill="#e8607a" stroke="#e8607a" stroke-width="0.3" textLength="37.7" lengthAdjust="spacingAndGlyphs">P2127</text>
<text transform="matrix(0.667 0.385 0.054 1.039 963 649.8)" font-size="13" fill="#e8607a" stroke="#e8607a" stroke-width="0.3" textLength="53.9" lengthAdjust="spacingAndGlyphs">PRECZ02</text>
<circle cx="774.2" cy="658.2" r="2.1" fill="none" stroke="#e8607a" stroke-width="0.9"/>
<path d="M776 659.2 L864.5 710.3" stroke="#e8607a" stroke-width="0.9" fill="none"/>
<text transform="matrix(0.667 0.385 0.054 1.039 868 712.5)" font-size="13" fill="#e8607a" stroke="#e8607a" stroke-width="0.3" textLength="37.7" lengthAdjust="spacingAndGlyphs">P2127</text>
<text transform="matrix(0.667 0.385 0.054 1.039 860 723.5)" font-size="13" fill="#e8607a" stroke="#e8607a" stroke-width="0.3" textLength="53.9" lengthAdjust="spacingAndGlyphs">PRECZ01</text>
<circle cx="662.6" cy="687.6" r="2.1" fill="none" stroke="#e8607a" stroke-width="0.9"/>
<path d="M662.6 689.7 L662.7 741.6 L730.4 780.7" stroke="#e8607a" stroke-width="0.9" fill="none"/>
<text transform="matrix(0.667 0.385 0.054 1.039 733.9 782.9)" font-size="13" fill="#e8607a" stroke="#e8607a" stroke-width="0.3" textLength="37.7" lengthAdjust="spacingAndGlyphs">P2127</text>
<text transform="matrix(0.667 0.385 0.054 1.039 725.9 793.9)" font-size="13" fill="#e8607a" stroke="#e8607a" stroke-width="0.3" textLength="61.7" lengthAdjust="spacingAndGlyphs">PQRECZ02</text>
<circle cx="578.2" cy="736.6" r="2.1" fill="none" stroke="#e8607a" stroke-width="0.9"/>
<path d="M580 737.6 L693.8 803.3" stroke="#e8607a" stroke-width="0.9" fill="none"/>
<text transform="matrix(0.667 0.385 0.054 1.039 697.3 805.5)" font-size="13" fill="#e8607a" stroke="#e8607a" stroke-width="0.3" textLength="37.7" lengthAdjust="spacingAndGlyphs">P2127</text>
<text transform="matrix(0.667 0.385 0.054 1.039 689.3 816.5)" font-size="13" fill="#e8607a" stroke="#e8607a" stroke-width="0.3" textLength="61.7" lengthAdjust="spacingAndGlyphs">PQRECZ02</text>
<circle cx="556.1" cy="821.8" r="2.1" fill="none" stroke="#e8607a" stroke-width="0.9"/>
<path d="M554.3 822.8 L530.1 836.8" stroke="#e8607a" stroke-width="0.9" fill="none"/>
<text transform="matrix(0.667 -0.385 -0.314 1.261 500.1 851.4)" font-size="13" fill="#e8607a" stroke="#e8607a" stroke-width="0.3" textLength="37.7" lengthAdjust="spacingAndGlyphs">P2127</text>
<text transform="matrix(0.667 -0.385 -0.314 1.261 500.9 868.4)" font-size="13" fill="#e8607a" stroke="#e8607a" stroke-width="0.3" textLength="53.9" lengthAdjust="spacingAndGlyphs">PRECZ01</text>
<circle cx="517.8" cy="888.9" r="2.1" fill="none" stroke="#5f8f55" stroke-width="0.9"/>
<path d="M519.6 890 L539.5 901.5" stroke="#5f8f55" stroke-width="0.9" fill="none"/>
<ellipse cx="565" cy="918.9" rx="29.3" ry="27.9" fill="none" stroke="#5f8f55" stroke-width="0.9"/>
<text transform="matrix(0.667 0.385 0.054 1.039 550.3 906.5)" font-size="13" fill="#5f8f55" stroke="#5f8f55" stroke-width="0.3" textLength="34" lengthAdjust="spacingAndGlyphs">P2127</text>
<text transform="matrix(0.667 0.385 0.054 1.039 542.7 917.5)" font-size="13" fill="#5f8f55" stroke="#5f8f55" stroke-width="0.3" textLength="53.9" lengthAdjust="spacingAndGlyphs">X29C02A</text>
<text transform="matrix(0.667 -0.385 -0.314 1.261 555 596.5)" font-size="13" fill="#2f6fe0" stroke="#2f6fe0" stroke-width="0.3" textLength="67.5" lengthAdjust="spacingAndGlyphs">29CSWI054</text>
<text transform="matrix(0.667 -0.385 -0.314 1.261 922.5 871)" font-size="13" fill="#2f6fe0" stroke="#2f6fe0" stroke-width="0.3" textLength="67.5" lengthAdjust="spacingAndGlyphs">29CSWI053</text>
<text transform="matrix(0.667 0.385 0.054 1.039 1396 262)" font-size="13" fill="#2f6fe0" stroke="#2f6fe0" stroke-width="0.3" textLength="76.5" lengthAdjust="spacingAndGlyphs">29CSWI059</text>
<text transform="matrix(0.667 -0.385 -0.314 1.261 717.5 477.5)" font-size="13" fill="#2f6fe0" stroke="#2f6fe0" stroke-width="0.3" textLength="97.5" lengthAdjust="spacingAndGlyphs" word-spacing="4.5">H.O.A. 56" AFF</text>
<text transform="matrix(0.667 -0.385 -0.314 1.261 732.5 484)" font-size="13" fill="#2f6fe0" stroke="#2f6fe0" stroke-width="0.3" textLength="72.7" lengthAdjust="spacingAndGlyphs">29CFEN055</text>
<text transform="matrix(0.667 0.385 0.054 1.039 712.6 26.3)" font-size="13" fill="#8c8c8c" stroke="#8c8c8c" stroke-width="0.12" textLength="70.5" lengthAdjust="spacingAndGlyphs" word-spacing="4.5">120(V) GFCI</text>
<text transform="matrix(0.667 0.385 0.054 1.039 693.3 34.6)" font-size="13" fill="#8c8c8c" stroke="#8c8c8c" stroke-width="0.12" textLength="100" lengthAdjust="spacingAndGlyphs" word-spacing="4.5">RECEPTACLE #2</text>
<text transform="matrix(0.667 0.385 0.054 1.039 103.2 371.2)" font-size="13" fill="#8c8c8c" stroke="#8c8c8c" stroke-width="0.12" textLength="75.9" lengthAdjust="spacingAndGlyphs" word-spacing="4.5">120(V) GFCI</text>
<text transform="matrix(0.667 0.385 0.054 1.039 86.2 380)" font-size="13" fill="#8c8c8c" stroke="#8c8c8c" stroke-width="0.12" textLength="103.2" lengthAdjust="spacingAndGlyphs" word-spacing="4.5">RECEPTACLE #3</text>
<text transform="matrix(0.667 0.385 0.054 1.039 207.5 426.2)" font-size="13" fill="#8c8c8c" stroke="#8c8c8c" stroke-width="0.12" textLength="76.9" lengthAdjust="spacingAndGlyphs" word-spacing="4.5">120(V) GFCI</text>
<text transform="matrix(0.667 0.385 0.054 1.039 191.2 433.8)" font-size="13" fill="#8c8c8c" stroke="#8c8c8c" stroke-width="0.12" textLength="101.4" lengthAdjust="spacingAndGlyphs" word-spacing="4.5">RECEPTACLE #4</text>
<text transform="matrix(0.667 0.385 0.054 1.039 859 95)" font-size="13" fill="#8c8c8c" stroke="#8c8c8c" stroke-width="0.12" textLength="76.5" lengthAdjust="spacingAndGlyphs" word-spacing="4.5">120(V) GFCI</text>
<text transform="matrix(0.667 0.385 0.054 1.039 841.5 102.5)" font-size="13" fill="#8c8c8c" stroke="#8c8c8c" stroke-width="0.12" textLength="101.2" lengthAdjust="spacingAndGlyphs" word-spacing="4.5">RECEPTACLE #1</text>
<text transform="matrix(0.667 0.385 0.054 1.039 985 112.5)" font-size="13" fill="#8c8c8c" stroke="#8c8c8c" stroke-width="0.12" textLength="106.5" lengthAdjust="spacingAndGlyphs" word-spacing="4.5">1" GRC CONDUIT</text>
<text transform="matrix(0.667 0.385 0.054 1.039 981 165)" font-size="13" fill="#8c8c8c" stroke="#8c8c8c" stroke-width="0.12" textLength="39.7" lengthAdjust="spacingAndGlyphs">120(V)</text>
<text transform="matrix(0.667 0.385 0.054 1.039 952.5 167.5)" font-size="13" fill="#8c8c8c" stroke="#8c8c8c" stroke-width="0.12" textLength="99.7" lengthAdjust="spacingAndGlyphs" word-spacing="4.5">RECEPTACLE #1</text>
<text transform="matrix(0.667 0.385 0.054 1.039 1120 167.5)" font-size="13" fill="#8c8c8c" stroke="#8c8c8c" stroke-width="0.12" textLength="52.5" lengthAdjust="spacingAndGlyphs">24"x24"</text>
<text transform="matrix(0.667 0.385 0.054 1.039 1111.5 177.5)" font-size="13" fill="#8c8c8c" stroke="#8c8c8c" stroke-width="0.12" textLength="65.2" lengthAdjust="spacingAndGlyphs" word-spacing="4.5">PULL BOX</text>
<text transform="matrix(0.667 -0.385 -0.314 1.261 310 395)" font-size="13" fill="#8c8c8c" stroke="#8c8c8c" stroke-width="0.12" textLength="33.7" lengthAdjust="spacingAndGlyphs">6"x6"</text>
<text transform="matrix(0.667 -0.385 -0.314 1.261 311.2 411.2)" font-size="13" fill="#8c8c8c" stroke="#8c8c8c" stroke-width="0.12" textLength="41.4" lengthAdjust="spacingAndGlyphs">J-BOX</text>
<path d="M306.4 391.8 L293 399.5 L293 425" stroke="#8a8a8a" stroke-width="0.8" fill="none"/>
<polygon points="293,425 291.4,420 294.6,420" fill="#111" stroke="#111" stroke-width="0.3" stroke-linejoin="round"/>
<text transform="matrix(0.667 -0.385 -0.314 1.261 304 457.5)" font-size="13" fill="#8c8c8c" stroke="#8c8c8c" stroke-width="0.12" textLength="121.5" lengthAdjust="spacingAndGlyphs" word-spacing="4.5">"T"-CONDUIT BODY</text>
<path d="M302.3 455.4 L290.1 462.5 L290.1 486" stroke="#8a8a8a" stroke-width="0.8" fill="none"/>
<polygon points="290.1,486 288.5,481 291.7,481" fill="#111" stroke="#111" stroke-width="0.3" stroke-linejoin="round"/>
<path d="M386.5 412 L403 421.5" stroke="#8a8a8a" stroke-width="0.8" fill="none"/>
<polygon points="403,421.5 397.9,420.4 399.5,417.6" fill="#111" stroke="#111" stroke-width="0.3" stroke-linejoin="round"/>
<text transform="matrix(0.667 -0.385 -0.314 1.261 510 337.5)" font-size="13" fill="#8c8c8c" stroke="#8c8c8c" stroke-width="0.12" textLength="123.7" lengthAdjust="spacingAndGlyphs" word-spacing="4.5">"T"-CONDUIT BODY</text>
<path d="M593.5 290.8 L610 300.3" stroke="#8a8a8a" stroke-width="0.8" fill="none"/>
<polygon points="610,300.3 604.9,299.2 606.5,296.4" fill="#111" stroke="#111" stroke-width="0.3" stroke-linejoin="round"/>
<text transform="matrix(0.667 -0.385 -0.314 1.261 377.5 372.5)" font-size="13" fill="#8c8c8c" stroke="#8c8c8c" stroke-width="0.12" textLength="77.2" lengthAdjust="spacingAndGlyphs" word-spacing="4.5">NEW 120(V)</text>
<text transform="matrix(0.667 -0.385 -0.314 1.261 384 385.5)" font-size="13" fill="#8c8c8c" stroke="#8c8c8c" stroke-width="0.12" textLength="76.5" lengthAdjust="spacingAndGlyphs">RECEPTACLE</text>
<text transform="matrix(0.667 -0.385 -0.314 1.261 585 250)" font-size="13" fill="#8c8c8c" stroke="#8c8c8c" stroke-width="0.12" textLength="76.5" lengthAdjust="spacingAndGlyphs" word-spacing="4.5">NEW 120(V)</text>
<text transform="matrix(0.667 -0.385 -0.314 1.261 592.5 265)" font-size="13" fill="#8c8c8c" stroke="#8c8c8c" stroke-width="0.12" textLength="75" lengthAdjust="spacingAndGlyphs">RECEPTACLE</text>
<text transform="matrix(0.667 -0.385 -0.314 1.261 465 300)" font-size="13" fill="#8c8c8c" stroke="#8c8c8c" stroke-width="0.12" textLength="108.7" lengthAdjust="spacingAndGlyphs" word-spacing="4.5">1" GRC CONDUIT</text>
<text transform="matrix(0.667 -0.385 -0.314 1.261 660 340)" font-size="13" fill="#8c8c8c" stroke="#8c8c8c" stroke-width="0.12" textLength="41.2" lengthAdjust="spacingAndGlyphs">120(V)</text>
<text transform="matrix(0.667 -0.385 -0.314 1.261 647.5 365)" font-size="13" fill="#8c8c8c" stroke="#8c8c8c" stroke-width="0.12" textLength="102.7" lengthAdjust="spacingAndGlyphs" word-spacing="4.5">RECEPTACLE #2</text>
<text transform="matrix(0.667 -0.385 -0.314 1.261 705 367.5)" font-size="13" fill="#8c8c8c" stroke="#8c8c8c" stroke-width="0.12" textLength="63.7" lengthAdjust="spacingAndGlyphs">CONDULET</text>
<text transform="matrix(0.667 -0.385 -0.314 1.261 692.5 392.5)" font-size="13" fill="#8c8c8c" stroke="#8c8c8c" stroke-width="0.12" textLength="123.7" lengthAdjust="spacingAndGlyphs" word-spacing="4.5">ELEMENT (TYPICAL)</text>
<path d="M706 372.5 L690 382 L684 386" stroke="#8a8a8a" stroke-width="0.8" fill="none"/>
<polygon points="684,386 687.5,382.1 689.1,384.9" fill="#111" stroke="#111" stroke-width="0.3" stroke-linejoin="round"/>
<path d="M676.8 354 L676.8 387" stroke="#1a1a1a" stroke-width="1.1" fill="none"/>
<path d="M681.2 354 L681.2 387" stroke="#1a1a1a" stroke-width="1.1" fill="none"/>
<ellipse cx="679.5" cy="369" rx="7" ry="10" fill="none" stroke="#1a1a1a" stroke-width="1.1" transform="rotate(-18 679.5 369)"/>
<ellipse cx="679.8" cy="407.5" rx="10" ry="3" fill="#111"/>
<polygon points="676.3,388.5 682,386 682,392.8 676.3,395.3" fill="#fff" stroke="#777" stroke-width="0.9" stroke-linejoin="round"/>
<text transform="matrix(0.667 -0.385 -0.314 1.261 639 530)" font-size="13" fill="#8c8c8c" stroke="#8c8c8c" stroke-width="0.12" textLength="80.2" lengthAdjust="spacingAndGlyphs">THERMOSTAT</text>
<text transform="matrix(0.667 -0.385 -0.314 1.261 659 535.5)" font-size="13" fill="#8c8c8c" stroke="#8c8c8c" stroke-width="0.12" textLength="50.2" lengthAdjust="spacingAndGlyphs" word-spacing="4.5">48" AFF</text>
<path d="M690.5 503 L698.2 498.6 L698.2 601.5" stroke="#8a8a8a" stroke-width="0.8" fill="none"/>
<polygon points="698.2,601.5 696.6,596.5 699.8,596.5" fill="#111" stroke="#111" stroke-width="0.3" stroke-linejoin="round"/>
<path d="M733 478.5 L703.7 495.5 L703.7 574" stroke="#8a8a8a" stroke-width="0.8" fill="none"/>
<polygon points="703.7,574 702.1,569 705.3,569" fill="#111" stroke="#111" stroke-width="0.3" stroke-linejoin="round"/>
<text transform="matrix(0.667 -0.385 -0.314 1.261 707.5 509)" font-size="13" fill="#8c8c8c" stroke="#8c8c8c" stroke-width="0.12" textLength="30" lengthAdjust="spacingAndGlyphs">QUAD</text>
<text transform="matrix(0.667 -0.385 -0.314 1.261 712.5 524)" font-size="13" fill="#8c8c8c" stroke="#8c8c8c" stroke-width="0.12" textLength="41.2" lengthAdjust="spacingAndGlyphs">RECEP.</text>
<path d="M727 513.5 L729.5 512 L729.5 611" stroke="#8a8a8a" stroke-width="0.8" fill="none"/>
<polygon points="729.5,611 727.9,606 731.1,606" fill="#111" stroke="#111" stroke-width="0.3" stroke-linejoin="round"/>
<text transform="matrix(0.667 -0.385 -0.314 1.261 767.5 492.5)" font-size="13" fill="#8c8c8c" stroke="#8c8c8c" stroke-width="0.12" textLength="41.2" lengthAdjust="spacingAndGlyphs">120(V)</text>
<text transform="matrix(0.667 -0.385 -0.314 1.261 757.5 520)" font-size="13" fill="#8c8c8c" stroke="#8c8c8c" stroke-width="0.12" textLength="99.7" lengthAdjust="spacingAndGlyphs" word-spacing="4.5">RECEPTACLE #6</text>
<text transform="matrix(0.667 -0.385 -0.314 1.261 769 539)" font-size="13" fill="#8c8c8c" stroke="#8c8c8c" stroke-width="0.12" textLength="87" lengthAdjust="spacingAndGlyphs" word-spacing="4.5">6"x6"x4" BOX</text>
<path d="M767 501 L737.5 518 L737.5 591 L747 600" stroke="#8a8a8a" stroke-width="0.8" fill="none"/>
<polygon points="747,600 741.9,598.9 743.5,596.1" fill="#111" stroke="#111" stroke-width="0.3" stroke-linejoin="round"/>
<path d="M769 541 L753.3 550 L753.3 563.5" stroke="#8a8a8a" stroke-width="0.8" fill="none"/>
<polygon points="753.3,563.5 751.7,558.5 754.9,558.5" fill="#111" stroke="#111" stroke-width="0.3" stroke-linejoin="round"/>
<text transform="matrix(0.667 0.385 0.054 1.039 1287.5 246)" font-size="13" fill="#8c8c8c" stroke="#8c8c8c" stroke-width="0.12" textLength="87.7" lengthAdjust="spacingAndGlyphs" word-spacing="4.5">EXHAUST FAN</text>
<text transform="matrix(0.667 0.385 0.054 1.039 1396.5 246)" font-size="13" fill="#8c8c8c" stroke="#8c8c8c" stroke-width="0.12" textLength="196.4" lengthAdjust="spacingAndGlyphs" word-spacing="4.5">DOOR DISCONNECT SWITCH #1</text>
<text transform="matrix(0.667 0.385 0.054 1.039 1392.5 290)" font-size="13" fill="#8c8c8c" stroke="#8c8c8c" stroke-width="0.12" textLength="90" lengthAdjust="spacingAndGlyphs" word-spacing="4.5">6"x6"x4" BOX</text>
<text transform="matrix(0.667 0.385 0.054 1.039 1380 317.5)" font-size="13" fill="#8c8c8c" stroke="#8c8c8c" stroke-width="0.12" textLength="101.2" lengthAdjust="spacingAndGlyphs" word-spacing="4.5">ROLL UP DOOR</text>
<text transform="matrix(0.667 0.385 0.054 1.039 1384 336)" font-size="13" fill="#8c8c8c" stroke="#8c8c8c" stroke-width="0.12" textLength="65.2" lengthAdjust="spacingAndGlyphs" word-spacing="4.5">MOTOR #1</text>
<text transform="matrix(0.667 0.385 0.054 1.039 1285 375)" font-size="13" fill="#8c8c8c" stroke="#8c8c8c" stroke-width="0.12" textLength="41.2" lengthAdjust="spacingAndGlyphs">120(V)</text>
<text transform="matrix(0.667 0.385 0.054 1.039 1256.5 377.5)" font-size="13" fill="#8c8c8c" stroke="#8c8c8c" stroke-width="0.12" textLength="101.2" lengthAdjust="spacingAndGlyphs" word-spacing="4.5">RECEPTACLE #5</text>
<text transform="matrix(0.667 0.385 0.054 1.039 1371.5 419)" font-size="13" fill="#8c8c8c" stroke="#8c8c8c" stroke-width="0.12" textLength="42.7" lengthAdjust="spacingAndGlyphs">480(V)</text>
<text transform="matrix(0.667 0.385 0.054 1.039 1343.5 421)" font-size="13" fill="#8c8c8c" stroke="#8c8c8c" stroke-width="0.12" textLength="101.2" lengthAdjust="spacingAndGlyphs" word-spacing="4.5">RECEPTACLE #3</text>
<text transform="matrix(0.667 -0.385 -0.314 1.261 872.5 431)" font-size="13" fill="#8c8c8c" stroke="#8c8c8c" stroke-width="0.12" textLength="41.2" lengthAdjust="spacingAndGlyphs">120(V)</text>
<text transform="matrix(0.667 -0.385 -0.314 1.261 860 457.5)" font-size="13" fill="#8c8c8c" stroke="#8c8c8c" stroke-width="0.12" textLength="103.5" lengthAdjust="spacingAndGlyphs" word-spacing="4.5">RECEPTACLE #3</text>
<path d="M871.5 432.5 L854 442.5 L854 518" stroke="#8a8a8a" stroke-width="0.8" fill="none"/>
<polygon points="854,518 852.4,513 855.6,513" fill="#111" stroke="#111" stroke-width="0.3" stroke-linejoin="round"/>
<text transform="matrix(0.667 -0.385 -0.314 1.261 1032.5 510)" font-size="13" fill="#8c8c8c" stroke="#8c8c8c" stroke-width="0.12" textLength="63.7" lengthAdjust="spacingAndGlyphs">CONDULET</text>
<text transform="matrix(0.667 -0.385 -0.314 1.261 1045 522.5)" font-size="13" fill="#8c8c8c" stroke="#8c8c8c" stroke-width="0.12" textLength="52.5" lengthAdjust="spacingAndGlyphs">ELEMENT</text>
<text transform="matrix(0.667 0.385 0.054 1.039 312.5 651)" font-size="13" fill="#8c8c8c" stroke="#8c8c8c" stroke-width="0.12" textLength="78.7" lengthAdjust="spacingAndGlyphs" word-spacing="4.5">NEW 120(V)</text>
<text transform="matrix(0.667 0.385 0.054 1.039 305 663.5)" font-size="13" fill="#8c8c8c" stroke="#8c8c8c" stroke-width="0.12" textLength="101.2" lengthAdjust="spacingAndGlyphs" word-spacing="4.5">RECEPTACLE #4</text>
<text transform="matrix(0.667 0.385 0.054 1.039 387.5 647)" font-size="13" fill="#8c8c8c" stroke="#8c8c8c" stroke-width="0.12" textLength="99.7" lengthAdjust="spacingAndGlyphs" word-spacing="4.5">ROLL UP DOOR</text>
<text transform="matrix(0.667 0.385 0.054 1.039 384 663.5)" font-size="13" fill="#8c8c8c" stroke="#8c8c8c" stroke-width="0.12" textLength="90" lengthAdjust="spacingAndGlyphs" word-spacing="4.5">OPERATOR #3</text>
<path d="M445.5 687 L464.5 697.5" stroke="#8a8a8a" stroke-width="0.8" fill="none"/>
<polygon points="464.5,697.5 459.4,696.4 461,693.6" fill="#111" stroke="#111" stroke-width="0.3" stroke-linejoin="round"/>
<text transform="matrix(0.667 -0.385 -0.314 1.261 452.5 588.5)" font-size="13" fill="#8c8c8c" stroke="#8c8c8c" stroke-width="0.12" textLength="97.5" lengthAdjust="spacingAndGlyphs" word-spacing="4.5">ROLL UP DOOR</text>
<text transform="matrix(0.667 -0.385 -0.314 1.261 481 591)" font-size="13" fill="#8c8c8c" stroke="#8c8c8c" stroke-width="0.12" textLength="66" lengthAdjust="spacingAndGlyphs" word-spacing="4.5">MOTOR #3</text>
<path d="M476.5 580.5 L434 604.6" stroke="#8a8a8a" stroke-width="0.8" fill="none"/>
<polygon points="434,604.6 437.5,600.7 439.1,603.5" fill="#111" stroke="#111" stroke-width="0.3" stroke-linejoin="round"/>
<text transform="matrix(0.667 -0.385 -0.314 1.261 491 616)" font-size="13" fill="#8c8c8c" stroke="#8c8c8c" stroke-width="0.12" textLength="193.4" lengthAdjust="spacingAndGlyphs" word-spacing="4.5">DOOR DISCONNECT SWITCH #3</text>
<path d="M552.5 589 L509.4 614 L509.4 674.8" stroke="#8a8a8a" stroke-width="0.8" fill="none"/>
<polygon points="509.4,674.8 507.8,669.8 511,669.8" fill="#111" stroke="#111" stroke-width="0.3" stroke-linejoin="round"/>
<text transform="matrix(0.667 -0.385 -0.314 1.261 616 583.5)" font-size="13" fill="#8c8c8c" stroke="#8c8c8c" stroke-width="0.12" textLength="43.5" lengthAdjust="spacingAndGlyphs">480(V)</text>
<text transform="matrix(0.667 -0.385 -0.314 1.261 605 611)" font-size="13" fill="#8c8c8c" stroke="#8c8c8c" stroke-width="0.12" textLength="97.5" lengthAdjust="spacingAndGlyphs" word-spacing="4.5">RECEPTACLE #1</text>
<path d="M672.5 563.5 L685.5 561 L685.5 639" stroke="#8a8a8a" stroke-width="0.8" fill="none"/>
<polygon points="685.5,639 683.9,634 687.1,634" fill="#111" stroke="#111" stroke-width="0.3" stroke-linejoin="round"/>
<text transform="matrix(0.667 -0.385 -0.314 1.261 551.5 637.5)" font-size="13" fill="#8c8c8c" stroke="#8c8c8c" stroke-width="0.12" textLength="42.7" lengthAdjust="spacingAndGlyphs">480(V)</text>
<text transform="matrix(0.667 -0.385 -0.314 1.261 540 663.5)" font-size="13" fill="#8c8c8c" stroke="#8c8c8c" stroke-width="0.12" textLength="101.2" lengthAdjust="spacingAndGlyphs" word-spacing="4.5">RECEPTACLE #2</text>
<path d="M608.8 618.9 L626 609.7 L626 673.3" stroke="#8a8a8a" stroke-width="0.8" fill="none"/>
<polygon points="626,673.3 624.4,668.3 627.6,668.3" fill="#111" stroke="#111" stroke-width="0.3" stroke-linejoin="round"/>
<text transform="matrix(0.667 -0.385 -0.314 1.261 634 638.5)" font-size="13" fill="#8c8c8c" stroke="#8c8c8c" stroke-width="0.12" textLength="31.5" lengthAdjust="spacingAndGlyphs">QUAD</text>
<text transform="matrix(0.667 -0.385 -0.314 1.261 635 655)" font-size="13" fill="#8c8c8c" stroke="#8c8c8c" stroke-width="0.12" textLength="41.2" lengthAdjust="spacingAndGlyphs">RECEP.</text>
<text transform="matrix(0.667 -0.385 -0.314 1.261 587.5 666)" font-size="13" fill="#8c8c8c" stroke="#8c8c8c" stroke-width="0.12" textLength="30" lengthAdjust="spacingAndGlyphs">QUAD</text>
<text transform="matrix(0.667 -0.385 -0.314 1.261 592.5 681)" font-size="13" fill="#8c8c8c" stroke="#8c8c8c" stroke-width="0.12" textLength="41.2" lengthAdjust="spacingAndGlyphs">RECEP.</text>
<text transform="matrix(0.667 -0.385 -0.314 1.261 534 696)" font-size="13" fill="#8c8c8c" stroke="#8c8c8c" stroke-width="0.12" textLength="31.5" lengthAdjust="spacingAndGlyphs">QUAD</text>
<text transform="matrix(0.667 -0.385 -0.314 1.261 540 711)" font-size="13" fill="#8c8c8c" stroke="#8c8c8c" stroke-width="0.12" textLength="41.2" lengthAdjust="spacingAndGlyphs">RECEP.</text>
<text transform="matrix(0.667 -0.385 -0.314 1.261 706 692)" font-size="13" fill="#8c8c8c" stroke="#8c8c8c" stroke-width="0.12" textLength="43.5" lengthAdjust="spacingAndGlyphs">J-BOX</text>
<path d="M735.5 674.5 L739 672.5 L739 658.5" stroke="#8a8a8a" stroke-width="0.8" fill="none"/>
<polygon points="739,658.5 740.6,663.5 737.4,663.5" fill="#111" stroke="#111" stroke-width="0.3" stroke-linejoin="round"/>
<text transform="matrix(0.667 -0.385 -0.314 1.261 400 805)" font-size="13" fill="#8c8c8c" stroke="#8c8c8c" stroke-width="0.12" textLength="41.2" lengthAdjust="spacingAndGlyphs">120(V)</text>
<text transform="matrix(0.667 -0.385 -0.314 1.261 389 831)" font-size="13" fill="#8c8c8c" stroke="#8c8c8c" stroke-width="0.12" textLength="100.5" lengthAdjust="spacingAndGlyphs" word-spacing="4.5">RECEPTACLE #4</text>
<text transform="matrix(0.667 -0.385 -0.314 1.261 400 846)" font-size="13" fill="#8c8c8c" stroke="#8c8c8c" stroke-width="0.12" textLength="86.2" lengthAdjust="spacingAndGlyphs" word-spacing="4.5">6"x6"x4" BOX</text>
<path d="M430 788.5 L523.5 739.3" stroke="#8a8a8a" stroke-width="0.8" fill="none"/>
<polygon points="523.5,739.3 519.8,743.1 518.3,740.2" fill="#111" stroke="#111" stroke-width="0.3" stroke-linejoin="round"/>
<path d="M457.5 803.5 L523.5 769.3" stroke="#8a8a8a" stroke-width="0.8" fill="none"/>
<polygon points="523.5,769.3 519.8,773.1 518.3,770.2" fill="#111" stroke="#111" stroke-width="0.3" stroke-linejoin="round"/>
<text transform="matrix(0.667 -0.385 -0.314 1.261 460 950)" font-size="13" fill="#8c8c8c" stroke="#8c8c8c" stroke-width="0.12" textLength="71.2" lengthAdjust="spacingAndGlyphs" word-spacing="4.5">DUCT BANK</text>
<text transform="matrix(0.667 -0.385 -0.314 1.261 452.5 973.5)" font-size="13" fill="#8c8c8c" stroke="#8c8c8c" stroke-width="0.12" textLength="105" lengthAdjust="spacingAndGlyphs" word-spacing="4.5">NO TAG NEEDED</text>
<text transform="matrix(0.667 -0.385 -0.314 1.261 357.5 971)" font-size="13" fill="#8c8c8c" stroke="#8c8c8c" stroke-width="0.12" textLength="67.5" lengthAdjust="spacingAndGlyphs" word-spacing="4.5">TO POWER</text>
<text transform="matrix(0.667 -0.385 -0.314 1.261 345 993.5)" font-size="13" fill="#8c8c8c" stroke="#8c8c8c" stroke-width="0.12" textLength="127.5" lengthAdjust="spacingAndGlyphs" word-spacing="4.5">HAND HOLE PHH-1</text>
<text transform="matrix(0.667 -0.385 -0.314 1.261 344 1012)" font-size="13" fill="#8c8c8c" stroke="#8c8c8c" stroke-width="0.12" textLength="151.5" lengthAdjust="spacingAndGlyphs" word-spacing="4.5">REFER TO PAGE TAG-1</text>
<text transform="matrix(0.667 -0.385 -0.314 1.261 734 875)" font-size="13" fill="#8c8c8c" stroke="#8c8c8c" stroke-width="0.12" textLength="87.7" lengthAdjust="spacingAndGlyphs" word-spacing="4.5">6"x6"x4" BOX</text>
<path d="M794 837.3 L808.6 828.7" stroke="#8a8a8a" stroke-width="0.8" fill="none"/>
<polygon points="808.6,828.7 805.1,832.6 803.5,829.8" fill="#111" stroke="#111" stroke-width="0.3" stroke-linejoin="round"/>
<text transform="matrix(0.667 -0.385 -0.314 1.261 842.5 796)" font-size="13" fill="#8c8c8c" stroke="#8c8c8c" stroke-width="0.12" textLength="97.5" lengthAdjust="spacingAndGlyphs" word-spacing="4.5">ROLL UP DOOR</text>
<text transform="matrix(0.667 -0.385 -0.314 1.261 867.5 798.5)" font-size="13" fill="#8c8c8c" stroke="#8c8c8c" stroke-width="0.12" textLength="67.5" lengthAdjust="spacingAndGlyphs" word-spacing="4.5">MOTOR #2</text>
<path d="M842 806 L829.3 813.3 L829.3 798.4" stroke="#8a8a8a" stroke-width="0.8" fill="none"/>
<polygon points="829.3,798.4 830.9,803.4 827.7,803.4" fill="#111" stroke="#111" stroke-width="0.3" stroke-linejoin="round"/>
<text transform="matrix(0.667 -0.385 -0.314 1.261 872.5 838.5)" font-size="13" fill="#8c8c8c" stroke="#8c8c8c" stroke-width="0.12" textLength="97.5" lengthAdjust="spacingAndGlyphs" word-spacing="4.5">ROLL UP DOOR</text>
<text transform="matrix(0.667 -0.385 -0.314 1.261 887.5 848.5)" font-size="13" fill="#8c8c8c" stroke="#8c8c8c" stroke-width="0.12" textLength="87.7" lengthAdjust="spacingAndGlyphs" word-spacing="4.5">OPERATOR #2</text>
<path d="M872.5 841.5 L819.5 872" stroke="#8a8a8a" stroke-width="0.8" fill="none"/>
<polygon points="819.5,872 823,868.1 824.6,870.9" fill="#111" stroke="#111" stroke-width="0.3" stroke-linejoin="round"/>
<text transform="matrix(0.667 -0.385 -0.314 1.261 866.5 886)" font-size="13" fill="#8c8c8c" stroke="#8c8c8c" stroke-width="0.12" textLength="194.2" lengthAdjust="spacingAndGlyphs" word-spacing="4.5">DOOR DISCONNECT SWITCH #2</text>
<path d="M917 866 L867.5 893" stroke="#8a8a8a" stroke-width="0.8" fill="none"/>
<polygon points="867.5,893 871,889.1 872.6,891.9" fill="#111" stroke="#111" stroke-width="0.3" stroke-linejoin="round"/>
<text transform="matrix(0.667 -0.385 -0.314 1.261 1274 578.5)" font-size="13" fill="#8c8c8c" stroke="#8c8c8c" stroke-width="0.12" textLength="41.2" lengthAdjust="spacingAndGlyphs">120(V)</text>
<text transform="matrix(0.667 -0.385 -0.314 1.261 1262.5 603.5)" font-size="13" fill="#8c8c8c" stroke="#8c8c8c" stroke-width="0.12" textLength="101.2" lengthAdjust="spacingAndGlyphs" word-spacing="4.5">RECEPTACLE #6</text>
<text transform="matrix(0.667 -0.385 -0.314 1.261 1272.5 625)" font-size="13" fill="#8c8c8c" stroke="#8c8c8c" stroke-width="0.12" textLength="87.7" lengthAdjust="spacingAndGlyphs" word-spacing="4.5">6"x6"x4" BOX</text>
<text transform="matrix(0.667 -0.385 -0.314 1.261 1376 742)" font-size="13" fill="#8c8c8c" stroke="#8c8c8c" stroke-width="0.12" textLength="99.7" lengthAdjust="spacingAndGlyphs" word-spacing="4.5">ROLL UP DOOR</text>
<text transform="matrix(0.667 -0.385 -0.314 1.261 1383.5 758.5)" font-size="13" fill="#8c8c8c" stroke="#8c8c8c" stroke-width="0.12" textLength="86.2" lengthAdjust="spacingAndGlyphs" word-spacing="4.5">OPERATOR #1</text>
<text transform="matrix(0.667 0.385 0.054 1.039 86 588.5)" font-size="13" fill="#222" stroke="#222" stroke-width="0.3" textLength="178.5" lengthAdjust="spacingAndGlyphs" word-spacing="4.5">CANOPY STORAGE ZONE#03</text>
<text transform="matrix(0.667 0.385 0.054 1.039 276.5 696)" font-size="13" fill="#222" stroke="#222" stroke-width="0.3" textLength="198.7" lengthAdjust="spacingAndGlyphs" word-spacing="4.5">REMOTE WAREHOUSE ZONE#02</text>
<text transform="matrix(0.667 0.385 0.054 1.039 629 900)" font-size="13" fill="#222" stroke="#222" stroke-width="0.3" textLength="198.7" lengthAdjust="spacingAndGlyphs" word-spacing="4.5">EQUIPMENT STORAGE ZONE#01</text>
</svg>
</body></html>
